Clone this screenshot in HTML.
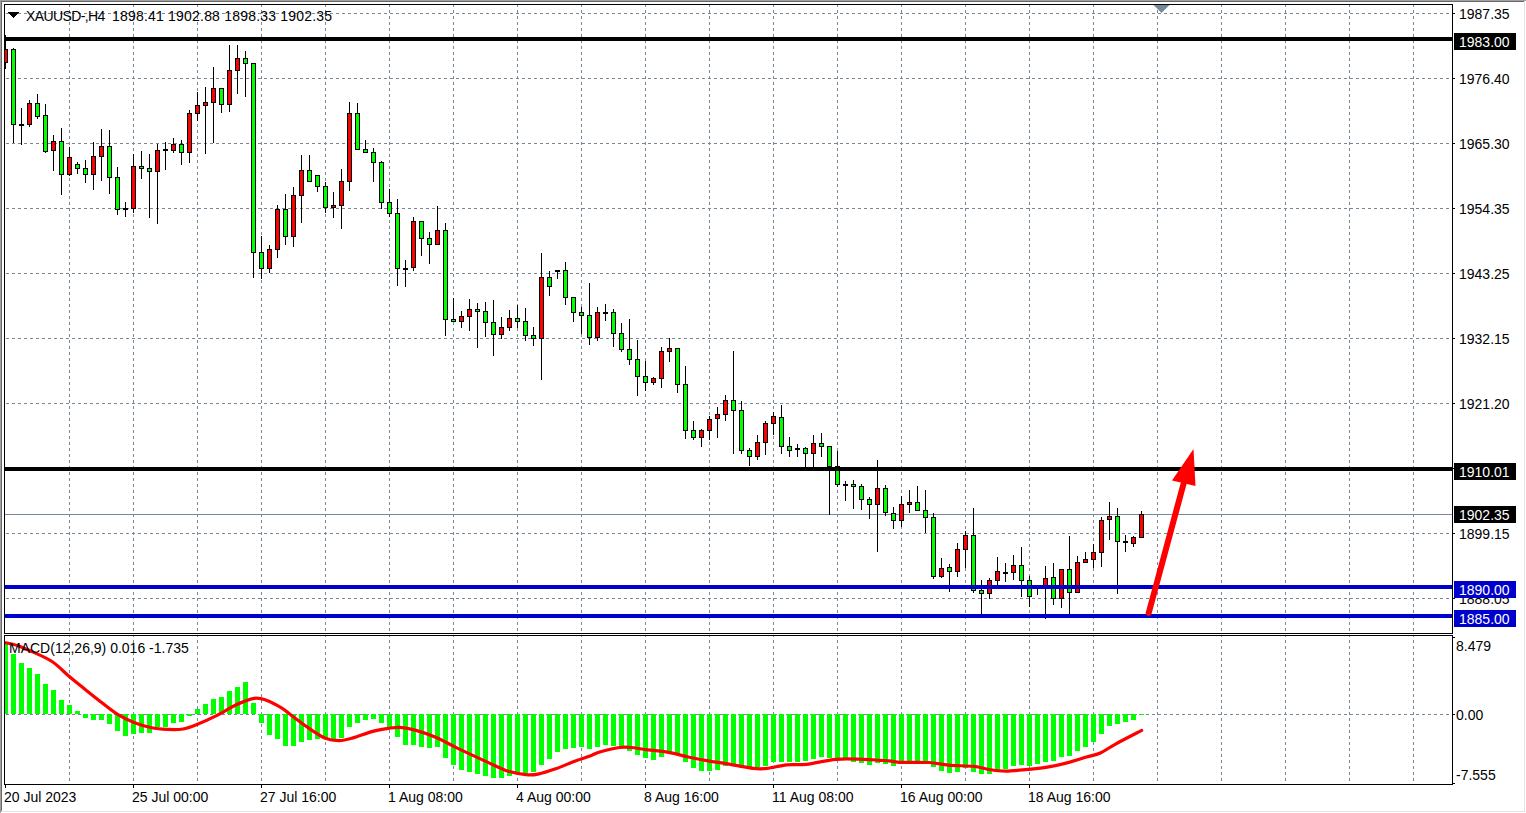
<!DOCTYPE html>
<html><head><meta charset="utf-8"><style>
html,body{margin:0;padding:0;background:#fff;width:1526px;height:813px;overflow:hidden;position:relative}
.t{position:absolute;font-family:"Liberation Sans",sans-serif;font-size:14px;line-height:16px;white-space:pre;letter-spacing:0px}
</style></head><body>
<svg width="1526" height="813" style="position:absolute;left:0;top:0" shape-rendering="crispEdges"><rect x="0" y="0" width="1526" height="1" fill="#a0a0a0"/><rect x="0" y="0" width="1" height="813" fill="#a0a0a0"/><rect x="1" y="1" width="1524" height="1" fill="#696969"/><rect x="1" y="1" width="1" height="811" fill="#696969"/><rect x="1524" y="1" width="1" height="811" fill="#e3e3e3"/><rect x="1" y="811" width="1524" height="1" fill="#e3e3e3"/><path d="M4.5 4V634M4 4.5H1453M1452.5 4V634M4 633.5H1453" stroke="#000" stroke-width="1" fill="none"/><path d="M4.5 635V785M4 635.5H1453M1452.5 635V785M4 784.5H1453" stroke="#000" stroke-width="1" fill="none"/><path d="M1453 13.5h2M1453 78.5h2M1453 143.5h2M1453 208.5h2M1453 273.5h2M1453 338.5h2M1453 403.5h2M1453 468.5h2M1453 533.5h2M1453 598.5h2M1453 637.5h2M1453 714.5h2M1453 783.5h2M5.5 785v3M133.5 785v3M261.5 785v3M389.5 785v3M517.5 785v3M645.5 785v3M773.5 785v3M901.5 785v3M1029.5 785v3" stroke="#000" stroke-width="1" fill="none"/><svg x="5" y="5" width="1447" height="628" viewBox="5 5 1447 628" overflow="hidden"><path d="M6 13.5h3M12 13.5h3M18 13.5h3M24 13.5h3M30 13.5h3M36 13.5h3M42 13.5h3M48 13.5h3M54 13.5h3M60 13.5h3M66 13.5h3M72 13.5h3M78 13.5h3M84 13.5h3M90 13.5h3M96 13.5h3M102 13.5h3M108 13.5h3M114 13.5h3M120 13.5h3M126 13.5h3M132 13.5h3M138 13.5h3M144 13.5h3M150 13.5h3M156 13.5h3M162 13.5h3M168 13.5h3M174 13.5h3M180 13.5h3M186 13.5h3M192 13.5h3M198 13.5h3M204 13.5h3M210 13.5h3M216 13.5h3M222 13.5h3M228 13.5h3M234 13.5h3M240 13.5h3M246 13.5h3M252 13.5h3M258 13.5h3M264 13.5h3M270 13.5h3M276 13.5h3M282 13.5h3M288 13.5h3M294 13.5h3M300 13.5h3M306 13.5h3M312 13.5h3M318 13.5h3M324 13.5h3M330 13.5h3M336 13.5h3M342 13.5h3M348 13.5h3M354 13.5h3M360 13.5h3M366 13.5h3M372 13.5h3M378 13.5h3M384 13.5h3M390 13.5h3M396 13.5h3M402 13.5h3M408 13.5h3M414 13.5h3M420 13.5h3M426 13.5h3M432 13.5h3M438 13.5h3M444 13.5h3M450 13.5h3M456 13.5h3M462 13.5h3M468 13.5h3M474 13.5h3M480 13.5h3M486 13.5h3M492 13.5h3M498 13.5h3M504 13.5h3M510 13.5h3M516 13.5h3M522 13.5h3M528 13.5h3M534 13.5h3M540 13.5h3M546 13.5h3M552 13.5h3M558 13.5h3M564 13.5h3M570 13.5h3M576 13.5h3M582 13.5h3M588 13.5h3M594 13.5h3M600 13.5h3M606 13.5h3M612 13.5h3M618 13.5h3M624 13.5h3M630 13.5h3M636 13.5h3M642 13.5h3M648 13.5h3M654 13.5h3M660 13.5h3M666 13.5h3M672 13.5h3M678 13.5h3M684 13.5h3M690 13.5h3M696 13.5h3M702 13.5h3M708 13.5h3M714 13.5h3M720 13.5h3M726 13.5h3M732 13.5h3M738 13.5h3M744 13.5h3M750 13.5h3M756 13.5h3M762 13.5h3M768 13.5h3M774 13.5h3M780 13.5h3M786 13.5h3M792 13.5h3M798 13.5h3M804 13.5h3M810 13.5h3M816 13.5h3M822 13.5h3M828 13.5h3M834 13.5h3M840 13.5h3M846 13.5h3M852 13.5h3M858 13.5h3M864 13.5h3M870 13.5h3M876 13.5h3M882 13.5h3M888 13.5h3M894 13.5h3M900 13.5h3M906 13.5h3M912 13.5h3M918 13.5h3M924 13.5h3M930 13.5h3M936 13.5h3M942 13.5h3M948 13.5h3M954 13.5h3M960 13.5h3M966 13.5h3M972 13.5h3M978 13.5h3M984 13.5h3M990 13.5h3M996 13.5h3M1002 13.5h3M1008 13.5h3M1014 13.5h3M1020 13.5h3M1026 13.5h3M1032 13.5h3M1038 13.5h3M1044 13.5h3M1050 13.5h3M1056 13.5h3M1062 13.5h3M1068 13.5h3M1074 13.5h3M1080 13.5h3M1086 13.5h3M1092 13.5h3M1098 13.5h3M1104 13.5h3M1110 13.5h3M1116 13.5h3M1122 13.5h3M1128 13.5h3M1134 13.5h3M1140 13.5h3M1146 13.5h3M1152 13.5h3M1158 13.5h3M1164 13.5h3M1170 13.5h3M1176 13.5h3M1182 13.5h3M1188 13.5h3M1194 13.5h3M1200 13.5h3M1206 13.5h3M1212 13.5h3M1218 13.5h3M1224 13.5h3M1230 13.5h3M1236 13.5h3M1242 13.5h3M1248 13.5h3M1254 13.5h3M1260 13.5h3M1266 13.5h3M1272 13.5h3M1278 13.5h3M1284 13.5h3M1290 13.5h3M1296 13.5h3M1302 13.5h3M1308 13.5h3M1314 13.5h3M1320 13.5h3M1326 13.5h3M1332 13.5h3M1338 13.5h3M1344 13.5h3M1350 13.5h3M1356 13.5h3M1362 13.5h3M1368 13.5h3M1374 13.5h3M1380 13.5h3M1386 13.5h3M1392 13.5h3M1398 13.5h3M1404 13.5h3M1410 13.5h3M1416 13.5h3M1422 13.5h3M1428 13.5h3M1434 13.5h3M1440 13.5h3M1446 13.5h3M6 78.5h3M12 78.5h3M18 78.5h3M24 78.5h3M30 78.5h3M36 78.5h3M42 78.5h3M48 78.5h3M54 78.5h3M60 78.5h3M66 78.5h3M72 78.5h3M78 78.5h3M84 78.5h3M90 78.5h3M96 78.5h3M102 78.5h3M108 78.5h3M114 78.5h3M120 78.5h3M126 78.5h3M132 78.5h3M138 78.5h3M144 78.5h3M150 78.5h3M156 78.5h3M162 78.5h3M168 78.5h3M174 78.5h3M180 78.5h3M186 78.5h3M192 78.5h3M198 78.5h3M204 78.5h3M210 78.5h3M216 78.5h3M222 78.5h3M228 78.5h3M234 78.5h3M240 78.5h3M246 78.5h3M252 78.5h3M258 78.5h3M264 78.5h3M270 78.5h3M276 78.5h3M282 78.5h3M288 78.5h3M294 78.5h3M300 78.5h3M306 78.5h3M312 78.5h3M318 78.5h3M324 78.5h3M330 78.5h3M336 78.5h3M342 78.5h3M348 78.5h3M354 78.5h3M360 78.5h3M366 78.5h3M372 78.5h3M378 78.5h3M384 78.5h3M390 78.5h3M396 78.5h3M402 78.5h3M408 78.5h3M414 78.5h3M420 78.5h3M426 78.5h3M432 78.5h3M438 78.5h3M444 78.5h3M450 78.5h3M456 78.5h3M462 78.5h3M468 78.5h3M474 78.5h3M480 78.5h3M486 78.5h3M492 78.5h3M498 78.5h3M504 78.5h3M510 78.5h3M516 78.5h3M522 78.5h3M528 78.5h3M534 78.5h3M540 78.5h3M546 78.5h3M552 78.5h3M558 78.5h3M564 78.5h3M570 78.5h3M576 78.5h3M582 78.5h3M588 78.5h3M594 78.5h3M600 78.5h3M606 78.5h3M612 78.5h3M618 78.5h3M624 78.5h3M630 78.5h3M636 78.5h3M642 78.5h3M648 78.5h3M654 78.5h3M660 78.5h3M666 78.5h3M672 78.5h3M678 78.5h3M684 78.5h3M690 78.5h3M696 78.5h3M702 78.5h3M708 78.5h3M714 78.5h3M720 78.5h3M726 78.5h3M732 78.5h3M738 78.5h3M744 78.5h3M750 78.5h3M756 78.5h3M762 78.5h3M768 78.5h3M774 78.5h3M780 78.5h3M786 78.5h3M792 78.5h3M798 78.5h3M804 78.5h3M810 78.5h3M816 78.5h3M822 78.5h3M828 78.5h3M834 78.5h3M840 78.5h3M846 78.5h3M852 78.5h3M858 78.5h3M864 78.5h3M870 78.5h3M876 78.5h3M882 78.5h3M888 78.5h3M894 78.5h3M900 78.5h3M906 78.5h3M912 78.5h3M918 78.5h3M924 78.5h3M930 78.5h3M936 78.5h3M942 78.5h3M948 78.5h3M954 78.5h3M960 78.5h3M966 78.5h3M972 78.5h3M978 78.5h3M984 78.5h3M990 78.5h3M996 78.5h3M1002 78.5h3M1008 78.5h3M1014 78.5h3M1020 78.5h3M1026 78.5h3M1032 78.5h3M1038 78.5h3M1044 78.5h3M1050 78.5h3M1056 78.5h3M1062 78.5h3M1068 78.5h3M1074 78.5h3M1080 78.5h3M1086 78.5h3M1092 78.5h3M1098 78.5h3M1104 78.5h3M1110 78.5h3M1116 78.5h3M1122 78.5h3M1128 78.5h3M1134 78.5h3M1140 78.5h3M1146 78.5h3M1152 78.5h3M1158 78.5h3M1164 78.5h3M1170 78.5h3M1176 78.5h3M1182 78.5h3M1188 78.5h3M1194 78.5h3M1200 78.5h3M1206 78.5h3M1212 78.5h3M1218 78.5h3M1224 78.5h3M1230 78.5h3M1236 78.5h3M1242 78.5h3M1248 78.5h3M1254 78.5h3M1260 78.5h3M1266 78.5h3M1272 78.5h3M1278 78.5h3M1284 78.5h3M1290 78.5h3M1296 78.5h3M1302 78.5h3M1308 78.5h3M1314 78.5h3M1320 78.5h3M1326 78.5h3M1332 78.5h3M1338 78.5h3M1344 78.5h3M1350 78.5h3M1356 78.5h3M1362 78.5h3M1368 78.5h3M1374 78.5h3M1380 78.5h3M1386 78.5h3M1392 78.5h3M1398 78.5h3M1404 78.5h3M1410 78.5h3M1416 78.5h3M1422 78.5h3M1428 78.5h3M1434 78.5h3M1440 78.5h3M1446 78.5h3M6 143.5h3M12 143.5h3M18 143.5h3M24 143.5h3M30 143.5h3M36 143.5h3M42 143.5h3M48 143.5h3M54 143.5h3M60 143.5h3M66 143.5h3M72 143.5h3M78 143.5h3M84 143.5h3M90 143.5h3M96 143.5h3M102 143.5h3M108 143.5h3M114 143.5h3M120 143.5h3M126 143.5h3M132 143.5h3M138 143.5h3M144 143.5h3M150 143.5h3M156 143.5h3M162 143.5h3M168 143.5h3M174 143.5h3M180 143.5h3M186 143.5h3M192 143.5h3M198 143.5h3M204 143.5h3M210 143.5h3M216 143.5h3M222 143.5h3M228 143.5h3M234 143.5h3M240 143.5h3M246 143.5h3M252 143.5h3M258 143.5h3M264 143.5h3M270 143.5h3M276 143.5h3M282 143.5h3M288 143.5h3M294 143.5h3M300 143.5h3M306 143.5h3M312 143.5h3M318 143.5h3M324 143.5h3M330 143.5h3M336 143.5h3M342 143.5h3M348 143.5h3M354 143.5h3M360 143.5h3M366 143.5h3M372 143.5h3M378 143.5h3M384 143.5h3M390 143.5h3M396 143.5h3M402 143.5h3M408 143.5h3M414 143.5h3M420 143.5h3M426 143.5h3M432 143.5h3M438 143.5h3M444 143.5h3M450 143.5h3M456 143.5h3M462 143.5h3M468 143.5h3M474 143.5h3M480 143.5h3M486 143.5h3M492 143.5h3M498 143.5h3M504 143.5h3M510 143.5h3M516 143.5h3M522 143.5h3M528 143.5h3M534 143.5h3M540 143.5h3M546 143.5h3M552 143.5h3M558 143.5h3M564 143.5h3M570 143.5h3M576 143.5h3M582 143.5h3M588 143.5h3M594 143.5h3M600 143.5h3M606 143.5h3M612 143.5h3M618 143.5h3M624 143.5h3M630 143.5h3M636 143.5h3M642 143.5h3M648 143.5h3M654 143.5h3M660 143.5h3M666 143.5h3M672 143.5h3M678 143.5h3M684 143.5h3M690 143.5h3M696 143.5h3M702 143.5h3M708 143.5h3M714 143.5h3M720 143.5h3M726 143.5h3M732 143.5h3M738 143.5h3M744 143.5h3M750 143.5h3M756 143.5h3M762 143.5h3M768 143.5h3M774 143.5h3M780 143.5h3M786 143.5h3M792 143.5h3M798 143.5h3M804 143.5h3M810 143.5h3M816 143.5h3M822 143.5h3M828 143.5h3M834 143.5h3M840 143.5h3M846 143.5h3M852 143.5h3M858 143.5h3M864 143.5h3M870 143.5h3M876 143.5h3M882 143.5h3M888 143.5h3M894 143.5h3M900 143.5h3M906 143.5h3M912 143.5h3M918 143.5h3M924 143.5h3M930 143.5h3M936 143.5h3M942 143.5h3M948 143.5h3M954 143.5h3M960 143.5h3M966 143.5h3M972 143.5h3M978 143.5h3M984 143.5h3M990 143.5h3M996 143.5h3M1002 143.5h3M1008 143.5h3M1014 143.5h3M1020 143.5h3M1026 143.5h3M1032 143.5h3M1038 143.5h3M1044 143.5h3M1050 143.5h3M1056 143.5h3M1062 143.5h3M1068 143.5h3M1074 143.5h3M1080 143.5h3M1086 143.5h3M1092 143.5h3M1098 143.5h3M1104 143.5h3M1110 143.5h3M1116 143.5h3M1122 143.5h3M1128 143.5h3M1134 143.5h3M1140 143.5h3M1146 143.5h3M1152 143.5h3M1158 143.5h3M1164 143.5h3M1170 143.5h3M1176 143.5h3M1182 143.5h3M1188 143.5h3M1194 143.5h3M1200 143.5h3M1206 143.5h3M1212 143.5h3M1218 143.5h3M1224 143.5h3M1230 143.5h3M1236 143.5h3M1242 143.5h3M1248 143.5h3M1254 143.5h3M1260 143.5h3M1266 143.5h3M1272 143.5h3M1278 143.5h3M1284 143.5h3M1290 143.5h3M1296 143.5h3M1302 143.5h3M1308 143.5h3M1314 143.5h3M1320 143.5h3M1326 143.5h3M1332 143.5h3M1338 143.5h3M1344 143.5h3M1350 143.5h3M1356 143.5h3M1362 143.5h3M1368 143.5h3M1374 143.5h3M1380 143.5h3M1386 143.5h3M1392 143.5h3M1398 143.5h3M1404 143.5h3M1410 143.5h3M1416 143.5h3M1422 143.5h3M1428 143.5h3M1434 143.5h3M1440 143.5h3M1446 143.5h3M6 208.5h3M12 208.5h3M18 208.5h3M24 208.5h3M30 208.5h3M36 208.5h3M42 208.5h3M48 208.5h3M54 208.5h3M60 208.5h3M66 208.5h3M72 208.5h3M78 208.5h3M84 208.5h3M90 208.5h3M96 208.5h3M102 208.5h3M108 208.5h3M114 208.5h3M120 208.5h3M126 208.5h3M132 208.5h3M138 208.5h3M144 208.5h3M150 208.5h3M156 208.5h3M162 208.5h3M168 208.5h3M174 208.5h3M180 208.5h3M186 208.5h3M192 208.5h3M198 208.5h3M204 208.5h3M210 208.5h3M216 208.5h3M222 208.5h3M228 208.5h3M234 208.5h3M240 208.5h3M246 208.5h3M252 208.5h3M258 208.5h3M264 208.5h3M270 208.5h3M276 208.5h3M282 208.5h3M288 208.5h3M294 208.5h3M300 208.5h3M306 208.5h3M312 208.5h3M318 208.5h3M324 208.5h3M330 208.5h3M336 208.5h3M342 208.5h3M348 208.5h3M354 208.5h3M360 208.5h3M366 208.5h3M372 208.5h3M378 208.5h3M384 208.5h3M390 208.5h3M396 208.5h3M402 208.5h3M408 208.5h3M414 208.5h3M420 208.5h3M426 208.5h3M432 208.5h3M438 208.5h3M444 208.5h3M450 208.5h3M456 208.5h3M462 208.5h3M468 208.5h3M474 208.5h3M480 208.5h3M486 208.5h3M492 208.5h3M498 208.5h3M504 208.5h3M510 208.5h3M516 208.5h3M522 208.5h3M528 208.5h3M534 208.5h3M540 208.5h3M546 208.5h3M552 208.5h3M558 208.5h3M564 208.5h3M570 208.5h3M576 208.5h3M582 208.5h3M588 208.5h3M594 208.5h3M600 208.5h3M606 208.5h3M612 208.5h3M618 208.5h3M624 208.5h3M630 208.5h3M636 208.5h3M642 208.5h3M648 208.5h3M654 208.5h3M660 208.5h3M666 208.5h3M672 208.5h3M678 208.5h3M684 208.5h3M690 208.5h3M696 208.5h3M702 208.5h3M708 208.5h3M714 208.5h3M720 208.5h3M726 208.5h3M732 208.5h3M738 208.5h3M744 208.5h3M750 208.5h3M756 208.5h3M762 208.5h3M768 208.5h3M774 208.5h3M780 208.5h3M786 208.5h3M792 208.5h3M798 208.5h3M804 208.5h3M810 208.5h3M816 208.5h3M822 208.5h3M828 208.5h3M834 208.5h3M840 208.5h3M846 208.5h3M852 208.5h3M858 208.5h3M864 208.5h3M870 208.5h3M876 208.5h3M882 208.5h3M888 208.5h3M894 208.5h3M900 208.5h3M906 208.5h3M912 208.5h3M918 208.5h3M924 208.5h3M930 208.5h3M936 208.5h3M942 208.5h3M948 208.5h3M954 208.5h3M960 208.5h3M966 208.5h3M972 208.5h3M978 208.5h3M984 208.5h3M990 208.5h3M996 208.5h3M1002 208.5h3M1008 208.5h3M1014 208.5h3M1020 208.5h3M1026 208.5h3M1032 208.5h3M1038 208.5h3M1044 208.5h3M1050 208.5h3M1056 208.5h3M1062 208.5h3M1068 208.5h3M1074 208.5h3M1080 208.5h3M1086 208.5h3M1092 208.5h3M1098 208.5h3M1104 208.5h3M1110 208.5h3M1116 208.5h3M1122 208.5h3M1128 208.5h3M1134 208.5h3M1140 208.5h3M1146 208.5h3M1152 208.5h3M1158 208.5h3M1164 208.5h3M1170 208.5h3M1176 208.5h3M1182 208.5h3M1188 208.5h3M1194 208.5h3M1200 208.5h3M1206 208.5h3M1212 208.5h3M1218 208.5h3M1224 208.5h3M1230 208.5h3M1236 208.5h3M1242 208.5h3M1248 208.5h3M1254 208.5h3M1260 208.5h3M1266 208.5h3M1272 208.5h3M1278 208.5h3M1284 208.5h3M1290 208.5h3M1296 208.5h3M1302 208.5h3M1308 208.5h3M1314 208.5h3M1320 208.5h3M1326 208.5h3M1332 208.5h3M1338 208.5h3M1344 208.5h3M1350 208.5h3M1356 208.5h3M1362 208.5h3M1368 208.5h3M1374 208.5h3M1380 208.5h3M1386 208.5h3M1392 208.5h3M1398 208.5h3M1404 208.5h3M1410 208.5h3M1416 208.5h3M1422 208.5h3M1428 208.5h3M1434 208.5h3M1440 208.5h3M1446 208.5h3M6 273.5h3M12 273.5h3M18 273.5h3M24 273.5h3M30 273.5h3M36 273.5h3M42 273.5h3M48 273.5h3M54 273.5h3M60 273.5h3M66 273.5h3M72 273.5h3M78 273.5h3M84 273.5h3M90 273.5h3M96 273.5h3M102 273.5h3M108 273.5h3M114 273.5h3M120 273.5h3M126 273.5h3M132 273.5h3M138 273.5h3M144 273.5h3M150 273.5h3M156 273.5h3M162 273.5h3M168 273.5h3M174 273.5h3M180 273.5h3M186 273.5h3M192 273.5h3M198 273.5h3M204 273.5h3M210 273.5h3M216 273.5h3M222 273.5h3M228 273.5h3M234 273.5h3M240 273.5h3M246 273.5h3M252 273.5h3M258 273.5h3M264 273.5h3M270 273.5h3M276 273.5h3M282 273.5h3M288 273.5h3M294 273.5h3M300 273.5h3M306 273.5h3M312 273.5h3M318 273.5h3M324 273.5h3M330 273.5h3M336 273.5h3M342 273.5h3M348 273.5h3M354 273.5h3M360 273.5h3M366 273.5h3M372 273.5h3M378 273.5h3M384 273.5h3M390 273.5h3M396 273.5h3M402 273.5h3M408 273.5h3M414 273.5h3M420 273.5h3M426 273.5h3M432 273.5h3M438 273.5h3M444 273.5h3M450 273.5h3M456 273.5h3M462 273.5h3M468 273.5h3M474 273.5h3M480 273.5h3M486 273.5h3M492 273.5h3M498 273.5h3M504 273.5h3M510 273.5h3M516 273.5h3M522 273.5h3M528 273.5h3M534 273.5h3M540 273.5h3M546 273.5h3M552 273.5h3M558 273.5h3M564 273.5h3M570 273.5h3M576 273.5h3M582 273.5h3M588 273.5h3M594 273.5h3M600 273.5h3M606 273.5h3M612 273.5h3M618 273.5h3M624 273.5h3M630 273.5h3M636 273.5h3M642 273.5h3M648 273.5h3M654 273.5h3M660 273.5h3M666 273.5h3M672 273.5h3M678 273.5h3M684 273.5h3M690 273.5h3M696 273.5h3M702 273.5h3M708 273.5h3M714 273.5h3M720 273.5h3M726 273.5h3M732 273.5h3M738 273.5h3M744 273.5h3M750 273.5h3M756 273.5h3M762 273.5h3M768 273.5h3M774 273.5h3M780 273.5h3M786 273.5h3M792 273.5h3M798 273.5h3M804 273.5h3M810 273.5h3M816 273.5h3M822 273.5h3M828 273.5h3M834 273.5h3M840 273.5h3M846 273.5h3M852 273.5h3M858 273.5h3M864 273.5h3M870 273.5h3M876 273.5h3M882 273.5h3M888 273.5h3M894 273.5h3M900 273.5h3M906 273.5h3M912 273.5h3M918 273.5h3M924 273.5h3M930 273.5h3M936 273.5h3M942 273.5h3M948 273.5h3M954 273.5h3M960 273.5h3M966 273.5h3M972 273.5h3M978 273.5h3M984 273.5h3M990 273.5h3M996 273.5h3M1002 273.5h3M1008 273.5h3M1014 273.5h3M1020 273.5h3M1026 273.5h3M1032 273.5h3M1038 273.5h3M1044 273.5h3M1050 273.5h3M1056 273.5h3M1062 273.5h3M1068 273.5h3M1074 273.5h3M1080 273.5h3M1086 273.5h3M1092 273.5h3M1098 273.5h3M1104 273.5h3M1110 273.5h3M1116 273.5h3M1122 273.5h3M1128 273.5h3M1134 273.5h3M1140 273.5h3M1146 273.5h3M1152 273.5h3M1158 273.5h3M1164 273.5h3M1170 273.5h3M1176 273.5h3M1182 273.5h3M1188 273.5h3M1194 273.5h3M1200 273.5h3M1206 273.5h3M1212 273.5h3M1218 273.5h3M1224 273.5h3M1230 273.5h3M1236 273.5h3M1242 273.5h3M1248 273.5h3M1254 273.5h3M1260 273.5h3M1266 273.5h3M1272 273.5h3M1278 273.5h3M1284 273.5h3M1290 273.5h3M1296 273.5h3M1302 273.5h3M1308 273.5h3M1314 273.5h3M1320 273.5h3M1326 273.5h3M1332 273.5h3M1338 273.5h3M1344 273.5h3M1350 273.5h3M1356 273.5h3M1362 273.5h3M1368 273.5h3M1374 273.5h3M1380 273.5h3M1386 273.5h3M1392 273.5h3M1398 273.5h3M1404 273.5h3M1410 273.5h3M1416 273.5h3M1422 273.5h3M1428 273.5h3M1434 273.5h3M1440 273.5h3M1446 273.5h3M6 338.5h3M12 338.5h3M18 338.5h3M24 338.5h3M30 338.5h3M36 338.5h3M42 338.5h3M48 338.5h3M54 338.5h3M60 338.5h3M66 338.5h3M72 338.5h3M78 338.5h3M84 338.5h3M90 338.5h3M96 338.5h3M102 338.5h3M108 338.5h3M114 338.5h3M120 338.5h3M126 338.5h3M132 338.5h3M138 338.5h3M144 338.5h3M150 338.5h3M156 338.5h3M162 338.5h3M168 338.5h3M174 338.5h3M180 338.5h3M186 338.5h3M192 338.5h3M198 338.5h3M204 338.5h3M210 338.5h3M216 338.5h3M222 338.5h3M228 338.5h3M234 338.5h3M240 338.5h3M246 338.5h3M252 338.5h3M258 338.5h3M264 338.5h3M270 338.5h3M276 338.5h3M282 338.5h3M288 338.5h3M294 338.5h3M300 338.5h3M306 338.5h3M312 338.5h3M318 338.5h3M324 338.5h3M330 338.5h3M336 338.5h3M342 338.5h3M348 338.5h3M354 338.5h3M360 338.5h3M366 338.5h3M372 338.5h3M378 338.5h3M384 338.5h3M390 338.5h3M396 338.5h3M402 338.5h3M408 338.5h3M414 338.5h3M420 338.5h3M426 338.5h3M432 338.5h3M438 338.5h3M444 338.5h3M450 338.5h3M456 338.5h3M462 338.5h3M468 338.5h3M474 338.5h3M480 338.5h3M486 338.5h3M492 338.5h3M498 338.5h3M504 338.5h3M510 338.5h3M516 338.5h3M522 338.5h3M528 338.5h3M534 338.5h3M540 338.5h3M546 338.5h3M552 338.5h3M558 338.5h3M564 338.5h3M570 338.5h3M576 338.5h3M582 338.5h3M588 338.5h3M594 338.5h3M600 338.5h3M606 338.5h3M612 338.5h3M618 338.5h3M624 338.5h3M630 338.5h3M636 338.5h3M642 338.5h3M648 338.5h3M654 338.5h3M660 338.5h3M666 338.5h3M672 338.5h3M678 338.5h3M684 338.5h3M690 338.5h3M696 338.5h3M702 338.5h3M708 338.5h3M714 338.5h3M720 338.5h3M726 338.5h3M732 338.5h3M738 338.5h3M744 338.5h3M750 338.5h3M756 338.5h3M762 338.5h3M768 338.5h3M774 338.5h3M780 338.5h3M786 338.5h3M792 338.5h3M798 338.5h3M804 338.5h3M810 338.5h3M816 338.5h3M822 338.5h3M828 338.5h3M834 338.5h3M840 338.5h3M846 338.5h3M852 338.5h3M858 338.5h3M864 338.5h3M870 338.5h3M876 338.5h3M882 338.5h3M888 338.5h3M894 338.5h3M900 338.5h3M906 338.5h3M912 338.5h3M918 338.5h3M924 338.5h3M930 338.5h3M936 338.5h3M942 338.5h3M948 338.5h3M954 338.5h3M960 338.5h3M966 338.5h3M972 338.5h3M978 338.5h3M984 338.5h3M990 338.5h3M996 338.5h3M1002 338.5h3M1008 338.5h3M1014 338.5h3M1020 338.5h3M1026 338.5h3M1032 338.5h3M1038 338.5h3M1044 338.5h3M1050 338.5h3M1056 338.5h3M1062 338.5h3M1068 338.5h3M1074 338.5h3M1080 338.5h3M1086 338.5h3M1092 338.5h3M1098 338.5h3M1104 338.5h3M1110 338.5h3M1116 338.5h3M1122 338.5h3M1128 338.5h3M1134 338.5h3M1140 338.5h3M1146 338.5h3M1152 338.5h3M1158 338.5h3M1164 338.5h3M1170 338.5h3M1176 338.5h3M1182 338.5h3M1188 338.5h3M1194 338.5h3M1200 338.5h3M1206 338.5h3M1212 338.5h3M1218 338.5h3M1224 338.5h3M1230 338.5h3M1236 338.5h3M1242 338.5h3M1248 338.5h3M1254 338.5h3M1260 338.5h3M1266 338.5h3M1272 338.5h3M1278 338.5h3M1284 338.5h3M1290 338.5h3M1296 338.5h3M1302 338.5h3M1308 338.5h3M1314 338.5h3M1320 338.5h3M1326 338.5h3M1332 338.5h3M1338 338.5h3M1344 338.5h3M1350 338.5h3M1356 338.5h3M1362 338.5h3M1368 338.5h3M1374 338.5h3M1380 338.5h3M1386 338.5h3M1392 338.5h3M1398 338.5h3M1404 338.5h3M1410 338.5h3M1416 338.5h3M1422 338.5h3M1428 338.5h3M1434 338.5h3M1440 338.5h3M1446 338.5h3M6 403.5h3M12 403.5h3M18 403.5h3M24 403.5h3M30 403.5h3M36 403.5h3M42 403.5h3M48 403.5h3M54 403.5h3M60 403.5h3M66 403.5h3M72 403.5h3M78 403.5h3M84 403.5h3M90 403.5h3M96 403.5h3M102 403.5h3M108 403.5h3M114 403.5h3M120 403.5h3M126 403.5h3M132 403.5h3M138 403.5h3M144 403.5h3M150 403.5h3M156 403.5h3M162 403.5h3M168 403.5h3M174 403.5h3M180 403.5h3M186 403.5h3M192 403.5h3M198 403.5h3M204 403.5h3M210 403.5h3M216 403.5h3M222 403.5h3M228 403.5h3M234 403.5h3M240 403.5h3M246 403.5h3M252 403.5h3M258 403.5h3M264 403.5h3M270 403.5h3M276 403.5h3M282 403.5h3M288 403.5h3M294 403.5h3M300 403.5h3M306 403.5h3M312 403.5h3M318 403.5h3M324 403.5h3M330 403.5h3M336 403.5h3M342 403.5h3M348 403.5h3M354 403.5h3M360 403.5h3M366 403.5h3M372 403.5h3M378 403.5h3M384 403.5h3M390 403.5h3M396 403.5h3M402 403.5h3M408 403.5h3M414 403.5h3M420 403.5h3M426 403.5h3M432 403.5h3M438 403.5h3M444 403.5h3M450 403.5h3M456 403.5h3M462 403.5h3M468 403.5h3M474 403.5h3M480 403.5h3M486 403.5h3M492 403.5h3M498 403.5h3M504 403.5h3M510 403.5h3M516 403.5h3M522 403.5h3M528 403.5h3M534 403.5h3M540 403.5h3M546 403.5h3M552 403.5h3M558 403.5h3M564 403.5h3M570 403.5h3M576 403.5h3M582 403.5h3M588 403.5h3M594 403.5h3M600 403.5h3M606 403.5h3M612 403.5h3M618 403.5h3M624 403.5h3M630 403.5h3M636 403.5h3M642 403.5h3M648 403.5h3M654 403.5h3M660 403.5h3M666 403.5h3M672 403.5h3M678 403.5h3M684 403.5h3M690 403.5h3M696 403.5h3M702 403.5h3M708 403.5h3M714 403.5h3M720 403.5h3M726 403.5h3M732 403.5h3M738 403.5h3M744 403.5h3M750 403.5h3M756 403.5h3M762 403.5h3M768 403.5h3M774 403.5h3M780 403.5h3M786 403.5h3M792 403.5h3M798 403.5h3M804 403.5h3M810 403.5h3M816 403.5h3M822 403.5h3M828 403.5h3M834 403.5h3M840 403.5h3M846 403.5h3M852 403.5h3M858 403.5h3M864 403.5h3M870 403.5h3M876 403.5h3M882 403.5h3M888 403.5h3M894 403.5h3M900 403.5h3M906 403.5h3M912 403.5h3M918 403.5h3M924 403.5h3M930 403.5h3M936 403.5h3M942 403.5h3M948 403.5h3M954 403.5h3M960 403.5h3M966 403.5h3M972 403.5h3M978 403.5h3M984 403.5h3M990 403.5h3M996 403.5h3M1002 403.5h3M1008 403.5h3M1014 403.5h3M1020 403.5h3M1026 403.5h3M1032 403.5h3M1038 403.5h3M1044 403.5h3M1050 403.5h3M1056 403.5h3M1062 403.5h3M1068 403.5h3M1074 403.5h3M1080 403.5h3M1086 403.5h3M1092 403.5h3M1098 403.5h3M1104 403.5h3M1110 403.5h3M1116 403.5h3M1122 403.5h3M1128 403.5h3M1134 403.5h3M1140 403.5h3M1146 403.5h3M1152 403.5h3M1158 403.5h3M1164 403.5h3M1170 403.5h3M1176 403.5h3M1182 403.5h3M1188 403.5h3M1194 403.5h3M1200 403.5h3M1206 403.5h3M1212 403.5h3M1218 403.5h3M1224 403.5h3M1230 403.5h3M1236 403.5h3M1242 403.5h3M1248 403.5h3M1254 403.5h3M1260 403.5h3M1266 403.5h3M1272 403.5h3M1278 403.5h3M1284 403.5h3M1290 403.5h3M1296 403.5h3M1302 403.5h3M1308 403.5h3M1314 403.5h3M1320 403.5h3M1326 403.5h3M1332 403.5h3M1338 403.5h3M1344 403.5h3M1350 403.5h3M1356 403.5h3M1362 403.5h3M1368 403.5h3M1374 403.5h3M1380 403.5h3M1386 403.5h3M1392 403.5h3M1398 403.5h3M1404 403.5h3M1410 403.5h3M1416 403.5h3M1422 403.5h3M1428 403.5h3M1434 403.5h3M1440 403.5h3M1446 403.5h3M6 468.5h3M12 468.5h3M18 468.5h3M24 468.5h3M30 468.5h3M36 468.5h3M42 468.5h3M48 468.5h3M54 468.5h3M60 468.5h3M66 468.5h3M72 468.5h3M78 468.5h3M84 468.5h3M90 468.5h3M96 468.5h3M102 468.5h3M108 468.5h3M114 468.5h3M120 468.5h3M126 468.5h3M132 468.5h3M138 468.5h3M144 468.5h3M150 468.5h3M156 468.5h3M162 468.5h3M168 468.5h3M174 468.5h3M180 468.5h3M186 468.5h3M192 468.5h3M198 468.5h3M204 468.5h3M210 468.5h3M216 468.5h3M222 468.5h3M228 468.5h3M234 468.5h3M240 468.5h3M246 468.5h3M252 468.5h3M258 468.5h3M264 468.5h3M270 468.5h3M276 468.5h3M282 468.5h3M288 468.5h3M294 468.5h3M300 468.5h3M306 468.5h3M312 468.5h3M318 468.5h3M324 468.5h3M330 468.5h3M336 468.5h3M342 468.5h3M348 468.5h3M354 468.5h3M360 468.5h3M366 468.5h3M372 468.5h3M378 468.5h3M384 468.5h3M390 468.5h3M396 468.5h3M402 468.5h3M408 468.5h3M414 468.5h3M420 468.5h3M426 468.5h3M432 468.5h3M438 468.5h3M444 468.5h3M450 468.5h3M456 468.5h3M462 468.5h3M468 468.5h3M474 468.5h3M480 468.5h3M486 468.5h3M492 468.5h3M498 468.5h3M504 468.5h3M510 468.5h3M516 468.5h3M522 468.5h3M528 468.5h3M534 468.5h3M540 468.5h3M546 468.5h3M552 468.5h3M558 468.5h3M564 468.5h3M570 468.5h3M576 468.5h3M582 468.5h3M588 468.5h3M594 468.5h3M600 468.5h3M606 468.5h3M612 468.5h3M618 468.5h3M624 468.5h3M630 468.5h3M636 468.5h3M642 468.5h3M648 468.5h3M654 468.5h3M660 468.5h3M666 468.5h3M672 468.5h3M678 468.5h3M684 468.5h3M690 468.5h3M696 468.5h3M702 468.5h3M708 468.5h3M714 468.5h3M720 468.5h3M726 468.5h3M732 468.5h3M738 468.5h3M744 468.5h3M750 468.5h3M756 468.5h3M762 468.5h3M768 468.5h3M774 468.5h3M780 468.5h3M786 468.5h3M792 468.5h3M798 468.5h3M804 468.5h3M810 468.5h3M816 468.5h3M822 468.5h3M828 468.5h3M834 468.5h3M840 468.5h3M846 468.5h3M852 468.5h3M858 468.5h3M864 468.5h3M870 468.5h3M876 468.5h3M882 468.5h3M888 468.5h3M894 468.5h3M900 468.5h3M906 468.5h3M912 468.5h3M918 468.5h3M924 468.5h3M930 468.5h3M936 468.5h3M942 468.5h3M948 468.5h3M954 468.5h3M960 468.5h3M966 468.5h3M972 468.5h3M978 468.5h3M984 468.5h3M990 468.5h3M996 468.5h3M1002 468.5h3M1008 468.5h3M1014 468.5h3M1020 468.5h3M1026 468.5h3M1032 468.5h3M1038 468.5h3M1044 468.5h3M1050 468.5h3M1056 468.5h3M1062 468.5h3M1068 468.5h3M1074 468.5h3M1080 468.5h3M1086 468.5h3M1092 468.5h3M1098 468.5h3M1104 468.5h3M1110 468.5h3M1116 468.5h3M1122 468.5h3M1128 468.5h3M1134 468.5h3M1140 468.5h3M1146 468.5h3M1152 468.5h3M1158 468.5h3M1164 468.5h3M1170 468.5h3M1176 468.5h3M1182 468.5h3M1188 468.5h3M1194 468.5h3M1200 468.5h3M1206 468.5h3M1212 468.5h3M1218 468.5h3M1224 468.5h3M1230 468.5h3M1236 468.5h3M1242 468.5h3M1248 468.5h3M1254 468.5h3M1260 468.5h3M1266 468.5h3M1272 468.5h3M1278 468.5h3M1284 468.5h3M1290 468.5h3M1296 468.5h3M1302 468.5h3M1308 468.5h3M1314 468.5h3M1320 468.5h3M1326 468.5h3M1332 468.5h3M1338 468.5h3M1344 468.5h3M1350 468.5h3M1356 468.5h3M1362 468.5h3M1368 468.5h3M1374 468.5h3M1380 468.5h3M1386 468.5h3M1392 468.5h3M1398 468.5h3M1404 468.5h3M1410 468.5h3M1416 468.5h3M1422 468.5h3M1428 468.5h3M1434 468.5h3M1440 468.5h3M1446 468.5h3M6 533.5h3M12 533.5h3M18 533.5h3M24 533.5h3M30 533.5h3M36 533.5h3M42 533.5h3M48 533.5h3M54 533.5h3M60 533.5h3M66 533.5h3M72 533.5h3M78 533.5h3M84 533.5h3M90 533.5h3M96 533.5h3M102 533.5h3M108 533.5h3M114 533.5h3M120 533.5h3M126 533.5h3M132 533.5h3M138 533.5h3M144 533.5h3M150 533.5h3M156 533.5h3M162 533.5h3M168 533.5h3M174 533.5h3M180 533.5h3M186 533.5h3M192 533.5h3M198 533.5h3M204 533.5h3M210 533.5h3M216 533.5h3M222 533.5h3M228 533.5h3M234 533.5h3M240 533.5h3M246 533.5h3M252 533.5h3M258 533.5h3M264 533.5h3M270 533.5h3M276 533.5h3M282 533.5h3M288 533.5h3M294 533.5h3M300 533.5h3M306 533.5h3M312 533.5h3M318 533.5h3M324 533.5h3M330 533.5h3M336 533.5h3M342 533.5h3M348 533.5h3M354 533.5h3M360 533.5h3M366 533.5h3M372 533.5h3M378 533.5h3M384 533.5h3M390 533.5h3M396 533.5h3M402 533.5h3M408 533.5h3M414 533.5h3M420 533.5h3M426 533.5h3M432 533.5h3M438 533.5h3M444 533.5h3M450 533.5h3M456 533.5h3M462 533.5h3M468 533.5h3M474 533.5h3M480 533.5h3M486 533.5h3M492 533.5h3M498 533.5h3M504 533.5h3M510 533.5h3M516 533.5h3M522 533.5h3M528 533.5h3M534 533.5h3M540 533.5h3M546 533.5h3M552 533.5h3M558 533.5h3M564 533.5h3M570 533.5h3M576 533.5h3M582 533.5h3M588 533.5h3M594 533.5h3M600 533.5h3M606 533.5h3M612 533.5h3M618 533.5h3M624 533.5h3M630 533.5h3M636 533.5h3M642 533.5h3M648 533.5h3M654 533.5h3M660 533.5h3M666 533.5h3M672 533.5h3M678 533.5h3M684 533.5h3M690 533.5h3M696 533.5h3M702 533.5h3M708 533.5h3M714 533.5h3M720 533.5h3M726 533.5h3M732 533.5h3M738 533.5h3M744 533.5h3M750 533.5h3M756 533.5h3M762 533.5h3M768 533.5h3M774 533.5h3M780 533.5h3M786 533.5h3M792 533.5h3M798 533.5h3M804 533.5h3M810 533.5h3M816 533.5h3M822 533.5h3M828 533.5h3M834 533.5h3M840 533.5h3M846 533.5h3M852 533.5h3M858 533.5h3M864 533.5h3M870 533.5h3M876 533.5h3M882 533.5h3M888 533.5h3M894 533.5h3M900 533.5h3M906 533.5h3M912 533.5h3M918 533.5h3M924 533.5h3M930 533.5h3M936 533.5h3M942 533.5h3M948 533.5h3M954 533.5h3M960 533.5h3M966 533.5h3M972 533.5h3M978 533.5h3M984 533.5h3M990 533.5h3M996 533.5h3M1002 533.5h3M1008 533.5h3M1014 533.5h3M1020 533.5h3M1026 533.5h3M1032 533.5h3M1038 533.5h3M1044 533.5h3M1050 533.5h3M1056 533.5h3M1062 533.5h3M1068 533.5h3M1074 533.5h3M1080 533.5h3M1086 533.5h3M1092 533.5h3M1098 533.5h3M1104 533.5h3M1110 533.5h3M1116 533.5h3M1122 533.5h3M1128 533.5h3M1134 533.5h3M1140 533.5h3M1146 533.5h3M1152 533.5h3M1158 533.5h3M1164 533.5h3M1170 533.5h3M1176 533.5h3M1182 533.5h3M1188 533.5h3M1194 533.5h3M1200 533.5h3M1206 533.5h3M1212 533.5h3M1218 533.5h3M1224 533.5h3M1230 533.5h3M1236 533.5h3M1242 533.5h3M1248 533.5h3M1254 533.5h3M1260 533.5h3M1266 533.5h3M1272 533.5h3M1278 533.5h3M1284 533.5h3M1290 533.5h3M1296 533.5h3M1302 533.5h3M1308 533.5h3M1314 533.5h3M1320 533.5h3M1326 533.5h3M1332 533.5h3M1338 533.5h3M1344 533.5h3M1350 533.5h3M1356 533.5h3M1362 533.5h3M1368 533.5h3M1374 533.5h3M1380 533.5h3M1386 533.5h3M1392 533.5h3M1398 533.5h3M1404 533.5h3M1410 533.5h3M1416 533.5h3M1422 533.5h3M1428 533.5h3M1434 533.5h3M1440 533.5h3M1446 533.5h3M6 598.5h3M12 598.5h3M18 598.5h3M24 598.5h3M30 598.5h3M36 598.5h3M42 598.5h3M48 598.5h3M54 598.5h3M60 598.5h3M66 598.5h3M72 598.5h3M78 598.5h3M84 598.5h3M90 598.5h3M96 598.5h3M102 598.5h3M108 598.5h3M114 598.5h3M120 598.5h3M126 598.5h3M132 598.5h3M138 598.5h3M144 598.5h3M150 598.5h3M156 598.5h3M162 598.5h3M168 598.5h3M174 598.5h3M180 598.5h3M186 598.5h3M192 598.5h3M198 598.5h3M204 598.5h3M210 598.5h3M216 598.5h3M222 598.5h3M228 598.5h3M234 598.5h3M240 598.5h3M246 598.5h3M252 598.5h3M258 598.5h3M264 598.5h3M270 598.5h3M276 598.5h3M282 598.5h3M288 598.5h3M294 598.5h3M300 598.5h3M306 598.5h3M312 598.5h3M318 598.5h3M324 598.5h3M330 598.5h3M336 598.5h3M342 598.5h3M348 598.5h3M354 598.5h3M360 598.5h3M366 598.5h3M372 598.5h3M378 598.5h3M384 598.5h3M390 598.5h3M396 598.5h3M402 598.5h3M408 598.5h3M414 598.5h3M420 598.5h3M426 598.5h3M432 598.5h3M438 598.5h3M444 598.5h3M450 598.5h3M456 598.5h3M462 598.5h3M468 598.5h3M474 598.5h3M480 598.5h3M486 598.5h3M492 598.5h3M498 598.5h3M504 598.5h3M510 598.5h3M516 598.5h3M522 598.5h3M528 598.5h3M534 598.5h3M540 598.5h3M546 598.5h3M552 598.5h3M558 598.5h3M564 598.5h3M570 598.5h3M576 598.5h3M582 598.5h3M588 598.5h3M594 598.5h3M600 598.5h3M606 598.5h3M612 598.5h3M618 598.5h3M624 598.5h3M630 598.5h3M636 598.5h3M642 598.5h3M648 598.5h3M654 598.5h3M660 598.5h3M666 598.5h3M672 598.5h3M678 598.5h3M684 598.5h3M690 598.5h3M696 598.5h3M702 598.5h3M708 598.5h3M714 598.5h3M720 598.5h3M726 598.5h3M732 598.5h3M738 598.5h3M744 598.5h3M750 598.5h3M756 598.5h3M762 598.5h3M768 598.5h3M774 598.5h3M780 598.5h3M786 598.5h3M792 598.5h3M798 598.5h3M804 598.5h3M810 598.5h3M816 598.5h3M822 598.5h3M828 598.5h3M834 598.5h3M840 598.5h3M846 598.5h3M852 598.5h3M858 598.5h3M864 598.5h3M870 598.5h3M876 598.5h3M882 598.5h3M888 598.5h3M894 598.5h3M900 598.5h3M906 598.5h3M912 598.5h3M918 598.5h3M924 598.5h3M930 598.5h3M936 598.5h3M942 598.5h3M948 598.5h3M954 598.5h3M960 598.5h3M966 598.5h3M972 598.5h3M978 598.5h3M984 598.5h3M990 598.5h3M996 598.5h3M1002 598.5h3M1008 598.5h3M1014 598.5h3M1020 598.5h3M1026 598.5h3M1032 598.5h3M1038 598.5h3M1044 598.5h3M1050 598.5h3M1056 598.5h3M1062 598.5h3M1068 598.5h3M1074 598.5h3M1080 598.5h3M1086 598.5h3M1092 598.5h3M1098 598.5h3M1104 598.5h3M1110 598.5h3M1116 598.5h3M1122 598.5h3M1128 598.5h3M1134 598.5h3M1140 598.5h3M1146 598.5h3M1152 598.5h3M1158 598.5h3M1164 598.5h3M1170 598.5h3M1176 598.5h3M1182 598.5h3M1188 598.5h3M1194 598.5h3M1200 598.5h3M1206 598.5h3M1212 598.5h3M1218 598.5h3M1224 598.5h3M1230 598.5h3M1236 598.5h3M1242 598.5h3M1248 598.5h3M1254 598.5h3M1260 598.5h3M1266 598.5h3M1272 598.5h3M1278 598.5h3M1284 598.5h3M1290 598.5h3M1296 598.5h3M1302 598.5h3M1308 598.5h3M1314 598.5h3M1320 598.5h3M1326 598.5h3M1332 598.5h3M1338 598.5h3M1344 598.5h3M1350 598.5h3M1356 598.5h3M1362 598.5h3M1368 598.5h3M1374 598.5h3M1380 598.5h3M1386 598.5h3M1392 598.5h3M1398 598.5h3M1404 598.5h3M1410 598.5h3M1416 598.5h3M1422 598.5h3M1428 598.5h3M1434 598.5h3M1440 598.5h3M1446 598.5h3M69.5 5v2M69.5 10v3M69.5 16v3M69.5 22v3M69.5 28v3M69.5 34v3M69.5 40v3M69.5 46v3M69.5 52v3M69.5 58v3M69.5 64v3M69.5 70v3M69.5 76v3M69.5 82v3M69.5 88v3M69.5 94v3M69.5 100v3M69.5 106v3M69.5 112v3M69.5 118v3M69.5 124v3M69.5 130v3M69.5 136v3M69.5 142v3M69.5 148v3M69.5 154v3M69.5 160v3M69.5 166v3M69.5 172v3M69.5 178v3M69.5 184v3M69.5 190v3M69.5 196v3M69.5 202v3M69.5 208v3M69.5 214v3M69.5 220v3M69.5 226v3M69.5 232v3M69.5 238v3M69.5 244v3M69.5 250v3M69.5 256v3M69.5 262v3M69.5 268v3M69.5 274v3M69.5 280v3M69.5 286v3M69.5 292v3M69.5 298v3M69.5 304v3M69.5 310v3M69.5 316v3M69.5 322v3M69.5 328v3M69.5 334v3M69.5 340v3M69.5 346v3M69.5 352v3M69.5 358v3M69.5 364v3M69.5 370v3M69.5 376v3M69.5 382v3M69.5 388v3M69.5 394v3M69.5 400v3M69.5 406v3M69.5 412v3M69.5 418v3M69.5 424v3M69.5 430v3M69.5 436v3M69.5 442v3M69.5 448v3M69.5 454v3M69.5 460v3M69.5 466v3M69.5 472v3M69.5 478v3M69.5 484v3M69.5 490v3M69.5 496v3M69.5 502v3M69.5 508v3M69.5 514v3M69.5 520v3M69.5 526v3M69.5 532v3M69.5 538v3M69.5 544v3M69.5 550v3M69.5 556v3M69.5 562v3M69.5 568v3M69.5 574v3M69.5 580v3M69.5 586v3M69.5 592v3M69.5 598v3M69.5 604v3M69.5 610v3M69.5 616v3M69.5 622v3M69.5 628v3M133.5 5v2M133.5 10v3M133.5 16v3M133.5 22v3M133.5 28v3M133.5 34v3M133.5 40v3M133.5 46v3M133.5 52v3M133.5 58v3M133.5 64v3M133.5 70v3M133.5 76v3M133.5 82v3M133.5 88v3M133.5 94v3M133.5 100v3M133.5 106v3M133.5 112v3M133.5 118v3M133.5 124v3M133.5 130v3M133.5 136v3M133.5 142v3M133.5 148v3M133.5 154v3M133.5 160v3M133.5 166v3M133.5 172v3M133.5 178v3M133.5 184v3M133.5 190v3M133.5 196v3M133.5 202v3M133.5 208v3M133.5 214v3M133.5 220v3M133.5 226v3M133.5 232v3M133.5 238v3M133.5 244v3M133.5 250v3M133.5 256v3M133.5 262v3M133.5 268v3M133.5 274v3M133.5 280v3M133.5 286v3M133.5 292v3M133.5 298v3M133.5 304v3M133.5 310v3M133.5 316v3M133.5 322v3M133.5 328v3M133.5 334v3M133.5 340v3M133.5 346v3M133.5 352v3M133.5 358v3M133.5 364v3M133.5 370v3M133.5 376v3M133.5 382v3M133.5 388v3M133.5 394v3M133.5 400v3M133.5 406v3M133.5 412v3M133.5 418v3M133.5 424v3M133.5 430v3M133.5 436v3M133.5 442v3M133.5 448v3M133.5 454v3M133.5 460v3M133.5 466v3M133.5 472v3M133.5 478v3M133.5 484v3M133.5 490v3M133.5 496v3M133.5 502v3M133.5 508v3M133.5 514v3M133.5 520v3M133.5 526v3M133.5 532v3M133.5 538v3M133.5 544v3M133.5 550v3M133.5 556v3M133.5 562v3M133.5 568v3M133.5 574v3M133.5 580v3M133.5 586v3M133.5 592v3M133.5 598v3M133.5 604v3M133.5 610v3M133.5 616v3M133.5 622v3M133.5 628v3M197.5 5v2M197.5 10v3M197.5 16v3M197.5 22v3M197.5 28v3M197.5 34v3M197.5 40v3M197.5 46v3M197.5 52v3M197.5 58v3M197.5 64v3M197.5 70v3M197.5 76v3M197.5 82v3M197.5 88v3M197.5 94v3M197.5 100v3M197.5 106v3M197.5 112v3M197.5 118v3M197.5 124v3M197.5 130v3M197.5 136v3M197.5 142v3M197.5 148v3M197.5 154v3M197.5 160v3M197.5 166v3M197.5 172v3M197.5 178v3M197.5 184v3M197.5 190v3M197.5 196v3M197.5 202v3M197.5 208v3M197.5 214v3M197.5 220v3M197.5 226v3M197.5 232v3M197.5 238v3M197.5 244v3M197.5 250v3M197.5 256v3M197.5 262v3M197.5 268v3M197.5 274v3M197.5 280v3M197.5 286v3M197.5 292v3M197.5 298v3M197.5 304v3M197.5 310v3M197.5 316v3M197.5 322v3M197.5 328v3M197.5 334v3M197.5 340v3M197.5 346v3M197.5 352v3M197.5 358v3M197.5 364v3M197.5 370v3M197.5 376v3M197.5 382v3M197.5 388v3M197.5 394v3M197.5 400v3M197.5 406v3M197.5 412v3M197.5 418v3M197.5 424v3M197.5 430v3M197.5 436v3M197.5 442v3M197.5 448v3M197.5 454v3M197.5 460v3M197.5 466v3M197.5 472v3M197.5 478v3M197.5 484v3M197.5 490v3M197.5 496v3M197.5 502v3M197.5 508v3M197.5 514v3M197.5 520v3M197.5 526v3M197.5 532v3M197.5 538v3M197.5 544v3M197.5 550v3M197.5 556v3M197.5 562v3M197.5 568v3M197.5 574v3M197.5 580v3M197.5 586v3M197.5 592v3M197.5 598v3M197.5 604v3M197.5 610v3M197.5 616v3M197.5 622v3M197.5 628v3M261.5 5v2M261.5 10v3M261.5 16v3M261.5 22v3M261.5 28v3M261.5 34v3M261.5 40v3M261.5 46v3M261.5 52v3M261.5 58v3M261.5 64v3M261.5 70v3M261.5 76v3M261.5 82v3M261.5 88v3M261.5 94v3M261.5 100v3M261.5 106v3M261.5 112v3M261.5 118v3M261.5 124v3M261.5 130v3M261.5 136v3M261.5 142v3M261.5 148v3M261.5 154v3M261.5 160v3M261.5 166v3M261.5 172v3M261.5 178v3M261.5 184v3M261.5 190v3M261.5 196v3M261.5 202v3M261.5 208v3M261.5 214v3M261.5 220v3M261.5 226v3M261.5 232v3M261.5 238v3M261.5 244v3M261.5 250v3M261.5 256v3M261.5 262v3M261.5 268v3M261.5 274v3M261.5 280v3M261.5 286v3M261.5 292v3M261.5 298v3M261.5 304v3M261.5 310v3M261.5 316v3M261.5 322v3M261.5 328v3M261.5 334v3M261.5 340v3M261.5 346v3M261.5 352v3M261.5 358v3M261.5 364v3M261.5 370v3M261.5 376v3M261.5 382v3M261.5 388v3M261.5 394v3M261.5 400v3M261.5 406v3M261.5 412v3M261.5 418v3M261.5 424v3M261.5 430v3M261.5 436v3M261.5 442v3M261.5 448v3M261.5 454v3M261.5 460v3M261.5 466v3M261.5 472v3M261.5 478v3M261.5 484v3M261.5 490v3M261.5 496v3M261.5 502v3M261.5 508v3M261.5 514v3M261.5 520v3M261.5 526v3M261.5 532v3M261.5 538v3M261.5 544v3M261.5 550v3M261.5 556v3M261.5 562v3M261.5 568v3M261.5 574v3M261.5 580v3M261.5 586v3M261.5 592v3M261.5 598v3M261.5 604v3M261.5 610v3M261.5 616v3M261.5 622v3M261.5 628v3M325.5 5v2M325.5 10v3M325.5 16v3M325.5 22v3M325.5 28v3M325.5 34v3M325.5 40v3M325.5 46v3M325.5 52v3M325.5 58v3M325.5 64v3M325.5 70v3M325.5 76v3M325.5 82v3M325.5 88v3M325.5 94v3M325.5 100v3M325.5 106v3M325.5 112v3M325.5 118v3M325.5 124v3M325.5 130v3M325.5 136v3M325.5 142v3M325.5 148v3M325.5 154v3M325.5 160v3M325.5 166v3M325.5 172v3M325.5 178v3M325.5 184v3M325.5 190v3M325.5 196v3M325.5 202v3M325.5 208v3M325.5 214v3M325.5 220v3M325.5 226v3M325.5 232v3M325.5 238v3M325.5 244v3M325.5 250v3M325.5 256v3M325.5 262v3M325.5 268v3M325.5 274v3M325.5 280v3M325.5 286v3M325.5 292v3M325.5 298v3M325.5 304v3M325.5 310v3M325.5 316v3M325.5 322v3M325.5 328v3M325.5 334v3M325.5 340v3M325.5 346v3M325.5 352v3M325.5 358v3M325.5 364v3M325.5 370v3M325.5 376v3M325.5 382v3M325.5 388v3M325.5 394v3M325.5 400v3M325.5 406v3M325.5 412v3M325.5 418v3M325.5 424v3M325.5 430v3M325.5 436v3M325.5 442v3M325.5 448v3M325.5 454v3M325.5 460v3M325.5 466v3M325.5 472v3M325.5 478v3M325.5 484v3M325.5 490v3M325.5 496v3M325.5 502v3M325.5 508v3M325.5 514v3M325.5 520v3M325.5 526v3M325.5 532v3M325.5 538v3M325.5 544v3M325.5 550v3M325.5 556v3M325.5 562v3M325.5 568v3M325.5 574v3M325.5 580v3M325.5 586v3M325.5 592v3M325.5 598v3M325.5 604v3M325.5 610v3M325.5 616v3M325.5 622v3M325.5 628v3M389.5 5v2M389.5 10v3M389.5 16v3M389.5 22v3M389.5 28v3M389.5 34v3M389.5 40v3M389.5 46v3M389.5 52v3M389.5 58v3M389.5 64v3M389.5 70v3M389.5 76v3M389.5 82v3M389.5 88v3M389.5 94v3M389.5 100v3M389.5 106v3M389.5 112v3M389.5 118v3M389.5 124v3M389.5 130v3M389.5 136v3M389.5 142v3M389.5 148v3M389.5 154v3M389.5 160v3M389.5 166v3M389.5 172v3M389.5 178v3M389.5 184v3M389.5 190v3M389.5 196v3M389.5 202v3M389.5 208v3M389.5 214v3M389.5 220v3M389.5 226v3M389.5 232v3M389.5 238v3M389.5 244v3M389.5 250v3M389.5 256v3M389.5 262v3M389.5 268v3M389.5 274v3M389.5 280v3M389.5 286v3M389.5 292v3M389.5 298v3M389.5 304v3M389.5 310v3M389.5 316v3M389.5 322v3M389.5 328v3M389.5 334v3M389.5 340v3M389.5 346v3M389.5 352v3M389.5 358v3M389.5 364v3M389.5 370v3M389.5 376v3M389.5 382v3M389.5 388v3M389.5 394v3M389.5 400v3M389.5 406v3M389.5 412v3M389.5 418v3M389.5 424v3M389.5 430v3M389.5 436v3M389.5 442v3M389.5 448v3M389.5 454v3M389.5 460v3M389.5 466v3M389.5 472v3M389.5 478v3M389.5 484v3M389.5 490v3M389.5 496v3M389.5 502v3M389.5 508v3M389.5 514v3M389.5 520v3M389.5 526v3M389.5 532v3M389.5 538v3M389.5 544v3M389.5 550v3M389.5 556v3M389.5 562v3M389.5 568v3M389.5 574v3M389.5 580v3M389.5 586v3M389.5 592v3M389.5 598v3M389.5 604v3M389.5 610v3M389.5 616v3M389.5 622v3M389.5 628v3M453.5 5v2M453.5 10v3M453.5 16v3M453.5 22v3M453.5 28v3M453.5 34v3M453.5 40v3M453.5 46v3M453.5 52v3M453.5 58v3M453.5 64v3M453.5 70v3M453.5 76v3M453.5 82v3M453.5 88v3M453.5 94v3M453.5 100v3M453.5 106v3M453.5 112v3M453.5 118v3M453.5 124v3M453.5 130v3M453.5 136v3M453.5 142v3M453.5 148v3M453.5 154v3M453.5 160v3M453.5 166v3M453.5 172v3M453.5 178v3M453.5 184v3M453.5 190v3M453.5 196v3M453.5 202v3M453.5 208v3M453.5 214v3M453.5 220v3M453.5 226v3M453.5 232v3M453.5 238v3M453.5 244v3M453.5 250v3M453.5 256v3M453.5 262v3M453.5 268v3M453.5 274v3M453.5 280v3M453.5 286v3M453.5 292v3M453.5 298v3M453.5 304v3M453.5 310v3M453.5 316v3M453.5 322v3M453.5 328v3M453.5 334v3M453.5 340v3M453.5 346v3M453.5 352v3M453.5 358v3M453.5 364v3M453.5 370v3M453.5 376v3M453.5 382v3M453.5 388v3M453.5 394v3M453.5 400v3M453.5 406v3M453.5 412v3M453.5 418v3M453.5 424v3M453.5 430v3M453.5 436v3M453.5 442v3M453.5 448v3M453.5 454v3M453.5 460v3M453.5 466v3M453.5 472v3M453.5 478v3M453.5 484v3M453.5 490v3M453.5 496v3M453.5 502v3M453.5 508v3M453.5 514v3M453.5 520v3M453.5 526v3M453.5 532v3M453.5 538v3M453.5 544v3M453.5 550v3M453.5 556v3M453.5 562v3M453.5 568v3M453.5 574v3M453.5 580v3M453.5 586v3M453.5 592v3M453.5 598v3M453.5 604v3M453.5 610v3M453.5 616v3M453.5 622v3M453.5 628v3M517.5 5v2M517.5 10v3M517.5 16v3M517.5 22v3M517.5 28v3M517.5 34v3M517.5 40v3M517.5 46v3M517.5 52v3M517.5 58v3M517.5 64v3M517.5 70v3M517.5 76v3M517.5 82v3M517.5 88v3M517.5 94v3M517.5 100v3M517.5 106v3M517.5 112v3M517.5 118v3M517.5 124v3M517.5 130v3M517.5 136v3M517.5 142v3M517.5 148v3M517.5 154v3M517.5 160v3M517.5 166v3M517.5 172v3M517.5 178v3M517.5 184v3M517.5 190v3M517.5 196v3M517.5 202v3M517.5 208v3M517.5 214v3M517.5 220v3M517.5 226v3M517.5 232v3M517.5 238v3M517.5 244v3M517.5 250v3M517.5 256v3M517.5 262v3M517.5 268v3M517.5 274v3M517.5 280v3M517.5 286v3M517.5 292v3M517.5 298v3M517.5 304v3M517.5 310v3M517.5 316v3M517.5 322v3M517.5 328v3M517.5 334v3M517.5 340v3M517.5 346v3M517.5 352v3M517.5 358v3M517.5 364v3M517.5 370v3M517.5 376v3M517.5 382v3M517.5 388v3M517.5 394v3M517.5 400v3M517.5 406v3M517.5 412v3M517.5 418v3M517.5 424v3M517.5 430v3M517.5 436v3M517.5 442v3M517.5 448v3M517.5 454v3M517.5 460v3M517.5 466v3M517.5 472v3M517.5 478v3M517.5 484v3M517.5 490v3M517.5 496v3M517.5 502v3M517.5 508v3M517.5 514v3M517.5 520v3M517.5 526v3M517.5 532v3M517.5 538v3M517.5 544v3M517.5 550v3M517.5 556v3M517.5 562v3M517.5 568v3M517.5 574v3M517.5 580v3M517.5 586v3M517.5 592v3M517.5 598v3M517.5 604v3M517.5 610v3M517.5 616v3M517.5 622v3M517.5 628v3M581.5 5v2M581.5 10v3M581.5 16v3M581.5 22v3M581.5 28v3M581.5 34v3M581.5 40v3M581.5 46v3M581.5 52v3M581.5 58v3M581.5 64v3M581.5 70v3M581.5 76v3M581.5 82v3M581.5 88v3M581.5 94v3M581.5 100v3M581.5 106v3M581.5 112v3M581.5 118v3M581.5 124v3M581.5 130v3M581.5 136v3M581.5 142v3M581.5 148v3M581.5 154v3M581.5 160v3M581.5 166v3M581.5 172v3M581.5 178v3M581.5 184v3M581.5 190v3M581.5 196v3M581.5 202v3M581.5 208v3M581.5 214v3M581.5 220v3M581.5 226v3M581.5 232v3M581.5 238v3M581.5 244v3M581.5 250v3M581.5 256v3M581.5 262v3M581.5 268v3M581.5 274v3M581.5 280v3M581.5 286v3M581.5 292v3M581.5 298v3M581.5 304v3M581.5 310v3M581.5 316v3M581.5 322v3M581.5 328v3M581.5 334v3M581.5 340v3M581.5 346v3M581.5 352v3M581.5 358v3M581.5 364v3M581.5 370v3M581.5 376v3M581.5 382v3M581.5 388v3M581.5 394v3M581.5 400v3M581.5 406v3M581.5 412v3M581.5 418v3M581.5 424v3M581.5 430v3M581.5 436v3M581.5 442v3M581.5 448v3M581.5 454v3M581.5 460v3M581.5 466v3M581.5 472v3M581.5 478v3M581.5 484v3M581.5 490v3M581.5 496v3M581.5 502v3M581.5 508v3M581.5 514v3M581.5 520v3M581.5 526v3M581.5 532v3M581.5 538v3M581.5 544v3M581.5 550v3M581.5 556v3M581.5 562v3M581.5 568v3M581.5 574v3M581.5 580v3M581.5 586v3M581.5 592v3M581.5 598v3M581.5 604v3M581.5 610v3M581.5 616v3M581.5 622v3M581.5 628v3M645.5 5v2M645.5 10v3M645.5 16v3M645.5 22v3M645.5 28v3M645.5 34v3M645.5 40v3M645.5 46v3M645.5 52v3M645.5 58v3M645.5 64v3M645.5 70v3M645.5 76v3M645.5 82v3M645.5 88v3M645.5 94v3M645.5 100v3M645.5 106v3M645.5 112v3M645.5 118v3M645.5 124v3M645.5 130v3M645.5 136v3M645.5 142v3M645.5 148v3M645.5 154v3M645.5 160v3M645.5 166v3M645.5 172v3M645.5 178v3M645.5 184v3M645.5 190v3M645.5 196v3M645.5 202v3M645.5 208v3M645.5 214v3M645.5 220v3M645.5 226v3M645.5 232v3M645.5 238v3M645.5 244v3M645.5 250v3M645.5 256v3M645.5 262v3M645.5 268v3M645.5 274v3M645.5 280v3M645.5 286v3M645.5 292v3M645.5 298v3M645.5 304v3M645.5 310v3M645.5 316v3M645.5 322v3M645.5 328v3M645.5 334v3M645.5 340v3M645.5 346v3M645.5 352v3M645.5 358v3M645.5 364v3M645.5 370v3M645.5 376v3M645.5 382v3M645.5 388v3M645.5 394v3M645.5 400v3M645.5 406v3M645.5 412v3M645.5 418v3M645.5 424v3M645.5 430v3M645.5 436v3M645.5 442v3M645.5 448v3M645.5 454v3M645.5 460v3M645.5 466v3M645.5 472v3M645.5 478v3M645.5 484v3M645.5 490v3M645.5 496v3M645.5 502v3M645.5 508v3M645.5 514v3M645.5 520v3M645.5 526v3M645.5 532v3M645.5 538v3M645.5 544v3M645.5 550v3M645.5 556v3M645.5 562v3M645.5 568v3M645.5 574v3M645.5 580v3M645.5 586v3M645.5 592v3M645.5 598v3M645.5 604v3M645.5 610v3M645.5 616v3M645.5 622v3M645.5 628v3M709.5 5v2M709.5 10v3M709.5 16v3M709.5 22v3M709.5 28v3M709.5 34v3M709.5 40v3M709.5 46v3M709.5 52v3M709.5 58v3M709.5 64v3M709.5 70v3M709.5 76v3M709.5 82v3M709.5 88v3M709.5 94v3M709.5 100v3M709.5 106v3M709.5 112v3M709.5 118v3M709.5 124v3M709.5 130v3M709.5 136v3M709.5 142v3M709.5 148v3M709.5 154v3M709.5 160v3M709.5 166v3M709.5 172v3M709.5 178v3M709.5 184v3M709.5 190v3M709.5 196v3M709.5 202v3M709.5 208v3M709.5 214v3M709.5 220v3M709.5 226v3M709.5 232v3M709.5 238v3M709.5 244v3M709.5 250v3M709.5 256v3M709.5 262v3M709.5 268v3M709.5 274v3M709.5 280v3M709.5 286v3M709.5 292v3M709.5 298v3M709.5 304v3M709.5 310v3M709.5 316v3M709.5 322v3M709.5 328v3M709.5 334v3M709.5 340v3M709.5 346v3M709.5 352v3M709.5 358v3M709.5 364v3M709.5 370v3M709.5 376v3M709.5 382v3M709.5 388v3M709.5 394v3M709.5 400v3M709.5 406v3M709.5 412v3M709.5 418v3M709.5 424v3M709.5 430v3M709.5 436v3M709.5 442v3M709.5 448v3M709.5 454v3M709.5 460v3M709.5 466v3M709.5 472v3M709.5 478v3M709.5 484v3M709.5 490v3M709.5 496v3M709.5 502v3M709.5 508v3M709.5 514v3M709.5 520v3M709.5 526v3M709.5 532v3M709.5 538v3M709.5 544v3M709.5 550v3M709.5 556v3M709.5 562v3M709.5 568v3M709.5 574v3M709.5 580v3M709.5 586v3M709.5 592v3M709.5 598v3M709.5 604v3M709.5 610v3M709.5 616v3M709.5 622v3M709.5 628v3M773.5 5v2M773.5 10v3M773.5 16v3M773.5 22v3M773.5 28v3M773.5 34v3M773.5 40v3M773.5 46v3M773.5 52v3M773.5 58v3M773.5 64v3M773.5 70v3M773.5 76v3M773.5 82v3M773.5 88v3M773.5 94v3M773.5 100v3M773.5 106v3M773.5 112v3M773.5 118v3M773.5 124v3M773.5 130v3M773.5 136v3M773.5 142v3M773.5 148v3M773.5 154v3M773.5 160v3M773.5 166v3M773.5 172v3M773.5 178v3M773.5 184v3M773.5 190v3M773.5 196v3M773.5 202v3M773.5 208v3M773.5 214v3M773.5 220v3M773.5 226v3M773.5 232v3M773.5 238v3M773.5 244v3M773.5 250v3M773.5 256v3M773.5 262v3M773.5 268v3M773.5 274v3M773.5 280v3M773.5 286v3M773.5 292v3M773.5 298v3M773.5 304v3M773.5 310v3M773.5 316v3M773.5 322v3M773.5 328v3M773.5 334v3M773.5 340v3M773.5 346v3M773.5 352v3M773.5 358v3M773.5 364v3M773.5 370v3M773.5 376v3M773.5 382v3M773.5 388v3M773.5 394v3M773.5 400v3M773.5 406v3M773.5 412v3M773.5 418v3M773.5 424v3M773.5 430v3M773.5 436v3M773.5 442v3M773.5 448v3M773.5 454v3M773.5 460v3M773.5 466v3M773.5 472v3M773.5 478v3M773.5 484v3M773.5 490v3M773.5 496v3M773.5 502v3M773.5 508v3M773.5 514v3M773.5 520v3M773.5 526v3M773.5 532v3M773.5 538v3M773.5 544v3M773.5 550v3M773.5 556v3M773.5 562v3M773.5 568v3M773.5 574v3M773.5 580v3M773.5 586v3M773.5 592v3M773.5 598v3M773.5 604v3M773.5 610v3M773.5 616v3M773.5 622v3M773.5 628v3M837.5 5v2M837.5 10v3M837.5 16v3M837.5 22v3M837.5 28v3M837.5 34v3M837.5 40v3M837.5 46v3M837.5 52v3M837.5 58v3M837.5 64v3M837.5 70v3M837.5 76v3M837.5 82v3M837.5 88v3M837.5 94v3M837.5 100v3M837.5 106v3M837.5 112v3M837.5 118v3M837.5 124v3M837.5 130v3M837.5 136v3M837.5 142v3M837.5 148v3M837.5 154v3M837.5 160v3M837.5 166v3M837.5 172v3M837.5 178v3M837.5 184v3M837.5 190v3M837.5 196v3M837.5 202v3M837.5 208v3M837.5 214v3M837.5 220v3M837.5 226v3M837.5 232v3M837.5 238v3M837.5 244v3M837.5 250v3M837.5 256v3M837.5 262v3M837.5 268v3M837.5 274v3M837.5 280v3M837.5 286v3M837.5 292v3M837.5 298v3M837.5 304v3M837.5 310v3M837.5 316v3M837.5 322v3M837.5 328v3M837.5 334v3M837.5 340v3M837.5 346v3M837.5 352v3M837.5 358v3M837.5 364v3M837.5 370v3M837.5 376v3M837.5 382v3M837.5 388v3M837.5 394v3M837.5 400v3M837.5 406v3M837.5 412v3M837.5 418v3M837.5 424v3M837.5 430v3M837.5 436v3M837.5 442v3M837.5 448v3M837.5 454v3M837.5 460v3M837.5 466v3M837.5 472v3M837.5 478v3M837.5 484v3M837.5 490v3M837.5 496v3M837.5 502v3M837.5 508v3M837.5 514v3M837.5 520v3M837.5 526v3M837.5 532v3M837.5 538v3M837.5 544v3M837.5 550v3M837.5 556v3M837.5 562v3M837.5 568v3M837.5 574v3M837.5 580v3M837.5 586v3M837.5 592v3M837.5 598v3M837.5 604v3M837.5 610v3M837.5 616v3M837.5 622v3M837.5 628v3M901.5 5v2M901.5 10v3M901.5 16v3M901.5 22v3M901.5 28v3M901.5 34v3M901.5 40v3M901.5 46v3M901.5 52v3M901.5 58v3M901.5 64v3M901.5 70v3M901.5 76v3M901.5 82v3M901.5 88v3M901.5 94v3M901.5 100v3M901.5 106v3M901.5 112v3M901.5 118v3M901.5 124v3M901.5 130v3M901.5 136v3M901.5 142v3M901.5 148v3M901.5 154v3M901.5 160v3M901.5 166v3M901.5 172v3M901.5 178v3M901.5 184v3M901.5 190v3M901.5 196v3M901.5 202v3M901.5 208v3M901.5 214v3M901.5 220v3M901.5 226v3M901.5 232v3M901.5 238v3M901.5 244v3M901.5 250v3M901.5 256v3M901.5 262v3M901.5 268v3M901.5 274v3M901.5 280v3M901.5 286v3M901.5 292v3M901.5 298v3M901.5 304v3M901.5 310v3M901.5 316v3M901.5 322v3M901.5 328v3M901.5 334v3M901.5 340v3M901.5 346v3M901.5 352v3M901.5 358v3M901.5 364v3M901.5 370v3M901.5 376v3M901.5 382v3M901.5 388v3M901.5 394v3M901.5 400v3M901.5 406v3M901.5 412v3M901.5 418v3M901.5 424v3M901.5 430v3M901.5 436v3M901.5 442v3M901.5 448v3M901.5 454v3M901.5 460v3M901.5 466v3M901.5 472v3M901.5 478v3M901.5 484v3M901.5 490v3M901.5 496v3M901.5 502v3M901.5 508v3M901.5 514v3M901.5 520v3M901.5 526v3M901.5 532v3M901.5 538v3M901.5 544v3M901.5 550v3M901.5 556v3M901.5 562v3M901.5 568v3M901.5 574v3M901.5 580v3M901.5 586v3M901.5 592v3M901.5 598v3M901.5 604v3M901.5 610v3M901.5 616v3M901.5 622v3M901.5 628v3M965.5 5v2M965.5 10v3M965.5 16v3M965.5 22v3M965.5 28v3M965.5 34v3M965.5 40v3M965.5 46v3M965.5 52v3M965.5 58v3M965.5 64v3M965.5 70v3M965.5 76v3M965.5 82v3M965.5 88v3M965.5 94v3M965.5 100v3M965.5 106v3M965.5 112v3M965.5 118v3M965.5 124v3M965.5 130v3M965.5 136v3M965.5 142v3M965.5 148v3M965.5 154v3M965.5 160v3M965.5 166v3M965.5 172v3M965.5 178v3M965.5 184v3M965.5 190v3M965.5 196v3M965.5 202v3M965.5 208v3M965.5 214v3M965.5 220v3M965.5 226v3M965.5 232v3M965.5 238v3M965.5 244v3M965.5 250v3M965.5 256v3M965.5 262v3M965.5 268v3M965.5 274v3M965.5 280v3M965.5 286v3M965.5 292v3M965.5 298v3M965.5 304v3M965.5 310v3M965.5 316v3M965.5 322v3M965.5 328v3M965.5 334v3M965.5 340v3M965.5 346v3M965.5 352v3M965.5 358v3M965.5 364v3M965.5 370v3M965.5 376v3M965.5 382v3M965.5 388v3M965.5 394v3M965.5 400v3M965.5 406v3M965.5 412v3M965.5 418v3M965.5 424v3M965.5 430v3M965.5 436v3M965.5 442v3M965.5 448v3M965.5 454v3M965.5 460v3M965.5 466v3M965.5 472v3M965.5 478v3M965.5 484v3M965.5 490v3M965.5 496v3M965.5 502v3M965.5 508v3M965.5 514v3M965.5 520v3M965.5 526v3M965.5 532v3M965.5 538v3M965.5 544v3M965.5 550v3M965.5 556v3M965.5 562v3M965.5 568v3M965.5 574v3M965.5 580v3M965.5 586v3M965.5 592v3M965.5 598v3M965.5 604v3M965.5 610v3M965.5 616v3M965.5 622v3M965.5 628v3M1029.5 5v2M1029.5 10v3M1029.5 16v3M1029.5 22v3M1029.5 28v3M1029.5 34v3M1029.5 40v3M1029.5 46v3M1029.5 52v3M1029.5 58v3M1029.5 64v3M1029.5 70v3M1029.5 76v3M1029.5 82v3M1029.5 88v3M1029.5 94v3M1029.5 100v3M1029.5 106v3M1029.5 112v3M1029.5 118v3M1029.5 124v3M1029.5 130v3M1029.5 136v3M1029.5 142v3M1029.5 148v3M1029.5 154v3M1029.5 160v3M1029.5 166v3M1029.5 172v3M1029.5 178v3M1029.5 184v3M1029.5 190v3M1029.5 196v3M1029.5 202v3M1029.5 208v3M1029.5 214v3M1029.5 220v3M1029.5 226v3M1029.5 232v3M1029.5 238v3M1029.5 244v3M1029.5 250v3M1029.5 256v3M1029.5 262v3M1029.5 268v3M1029.5 274v3M1029.5 280v3M1029.5 286v3M1029.5 292v3M1029.5 298v3M1029.5 304v3M1029.5 310v3M1029.5 316v3M1029.5 322v3M1029.5 328v3M1029.5 334v3M1029.5 340v3M1029.5 346v3M1029.5 352v3M1029.5 358v3M1029.5 364v3M1029.5 370v3M1029.5 376v3M1029.5 382v3M1029.5 388v3M1029.5 394v3M1029.5 400v3M1029.5 406v3M1029.5 412v3M1029.5 418v3M1029.5 424v3M1029.5 430v3M1029.5 436v3M1029.5 442v3M1029.5 448v3M1029.5 454v3M1029.5 460v3M1029.5 466v3M1029.5 472v3M1029.5 478v3M1029.5 484v3M1029.5 490v3M1029.5 496v3M1029.5 502v3M1029.5 508v3M1029.5 514v3M1029.5 520v3M1029.5 526v3M1029.5 532v3M1029.5 538v3M1029.5 544v3M1029.5 550v3M1029.5 556v3M1029.5 562v3M1029.5 568v3M1029.5 574v3M1029.5 580v3M1029.5 586v3M1029.5 592v3M1029.5 598v3M1029.5 604v3M1029.5 610v3M1029.5 616v3M1029.5 622v3M1029.5 628v3M1093.5 5v2M1093.5 10v3M1093.5 16v3M1093.5 22v3M1093.5 28v3M1093.5 34v3M1093.5 40v3M1093.5 46v3M1093.5 52v3M1093.5 58v3M1093.5 64v3M1093.5 70v3M1093.5 76v3M1093.5 82v3M1093.5 88v3M1093.5 94v3M1093.5 100v3M1093.5 106v3M1093.5 112v3M1093.5 118v3M1093.5 124v3M1093.5 130v3M1093.5 136v3M1093.5 142v3M1093.5 148v3M1093.5 154v3M1093.5 160v3M1093.5 166v3M1093.5 172v3M1093.5 178v3M1093.5 184v3M1093.5 190v3M1093.5 196v3M1093.5 202v3M1093.5 208v3M1093.5 214v3M1093.5 220v3M1093.5 226v3M1093.5 232v3M1093.5 238v3M1093.5 244v3M1093.5 250v3M1093.5 256v3M1093.5 262v3M1093.5 268v3M1093.5 274v3M1093.5 280v3M1093.5 286v3M1093.5 292v3M1093.5 298v3M1093.5 304v3M1093.5 310v3M1093.5 316v3M1093.5 322v3M1093.5 328v3M1093.5 334v3M1093.5 340v3M1093.5 346v3M1093.5 352v3M1093.5 358v3M1093.5 364v3M1093.5 370v3M1093.5 376v3M1093.5 382v3M1093.5 388v3M1093.5 394v3M1093.5 400v3M1093.5 406v3M1093.5 412v3M1093.5 418v3M1093.5 424v3M1093.5 430v3M1093.5 436v3M1093.5 442v3M1093.5 448v3M1093.5 454v3M1093.5 460v3M1093.5 466v3M1093.5 472v3M1093.5 478v3M1093.5 484v3M1093.5 490v3M1093.5 496v3M1093.5 502v3M1093.5 508v3M1093.5 514v3M1093.5 520v3M1093.5 526v3M1093.5 532v3M1093.5 538v3M1093.5 544v3M1093.5 550v3M1093.5 556v3M1093.5 562v3M1093.5 568v3M1093.5 574v3M1093.5 580v3M1093.5 586v3M1093.5 592v3M1093.5 598v3M1093.5 604v3M1093.5 610v3M1093.5 616v3M1093.5 622v3M1093.5 628v3M1157.5 5v2M1157.5 10v3M1157.5 16v3M1157.5 22v3M1157.5 28v3M1157.5 34v3M1157.5 40v3M1157.5 46v3M1157.5 52v3M1157.5 58v3M1157.5 64v3M1157.5 70v3M1157.5 76v3M1157.5 82v3M1157.5 88v3M1157.5 94v3M1157.5 100v3M1157.5 106v3M1157.5 112v3M1157.5 118v3M1157.5 124v3M1157.5 130v3M1157.5 136v3M1157.5 142v3M1157.5 148v3M1157.5 154v3M1157.5 160v3M1157.5 166v3M1157.5 172v3M1157.5 178v3M1157.5 184v3M1157.5 190v3M1157.5 196v3M1157.5 202v3M1157.5 208v3M1157.5 214v3M1157.5 220v3M1157.5 226v3M1157.5 232v3M1157.5 238v3M1157.5 244v3M1157.5 250v3M1157.5 256v3M1157.5 262v3M1157.5 268v3M1157.5 274v3M1157.5 280v3M1157.5 286v3M1157.5 292v3M1157.5 298v3M1157.5 304v3M1157.5 310v3M1157.5 316v3M1157.5 322v3M1157.5 328v3M1157.5 334v3M1157.5 340v3M1157.5 346v3M1157.5 352v3M1157.5 358v3M1157.5 364v3M1157.5 370v3M1157.5 376v3M1157.5 382v3M1157.5 388v3M1157.5 394v3M1157.5 400v3M1157.5 406v3M1157.5 412v3M1157.5 418v3M1157.5 424v3M1157.5 430v3M1157.5 436v3M1157.5 442v3M1157.5 448v3M1157.5 454v3M1157.5 460v3M1157.5 466v3M1157.5 472v3M1157.5 478v3M1157.5 484v3M1157.5 490v3M1157.5 496v3M1157.5 502v3M1157.5 508v3M1157.5 514v3M1157.5 520v3M1157.5 526v3M1157.5 532v3M1157.5 538v3M1157.5 544v3M1157.5 550v3M1157.5 556v3M1157.5 562v3M1157.5 568v3M1157.5 574v3M1157.5 580v3M1157.5 586v3M1157.5 592v3M1157.5 598v3M1157.5 604v3M1157.5 610v3M1157.5 616v3M1157.5 622v3M1157.5 628v3M1221.5 5v2M1221.5 10v3M1221.5 16v3M1221.5 22v3M1221.5 28v3M1221.5 34v3M1221.5 40v3M1221.5 46v3M1221.5 52v3M1221.5 58v3M1221.5 64v3M1221.5 70v3M1221.5 76v3M1221.5 82v3M1221.5 88v3M1221.5 94v3M1221.5 100v3M1221.5 106v3M1221.5 112v3M1221.5 118v3M1221.5 124v3M1221.5 130v3M1221.5 136v3M1221.5 142v3M1221.5 148v3M1221.5 154v3M1221.5 160v3M1221.5 166v3M1221.5 172v3M1221.5 178v3M1221.5 184v3M1221.5 190v3M1221.5 196v3M1221.5 202v3M1221.5 208v3M1221.5 214v3M1221.5 220v3M1221.5 226v3M1221.5 232v3M1221.5 238v3M1221.5 244v3M1221.5 250v3M1221.5 256v3M1221.5 262v3M1221.5 268v3M1221.5 274v3M1221.5 280v3M1221.5 286v3M1221.5 292v3M1221.5 298v3M1221.5 304v3M1221.5 310v3M1221.5 316v3M1221.5 322v3M1221.5 328v3M1221.5 334v3M1221.5 340v3M1221.5 346v3M1221.5 352v3M1221.5 358v3M1221.5 364v3M1221.5 370v3M1221.5 376v3M1221.5 382v3M1221.5 388v3M1221.5 394v3M1221.5 400v3M1221.5 406v3M1221.5 412v3M1221.5 418v3M1221.5 424v3M1221.5 430v3M1221.5 436v3M1221.5 442v3M1221.5 448v3M1221.5 454v3M1221.5 460v3M1221.5 466v3M1221.5 472v3M1221.5 478v3M1221.5 484v3M1221.5 490v3M1221.5 496v3M1221.5 502v3M1221.5 508v3M1221.5 514v3M1221.5 520v3M1221.5 526v3M1221.5 532v3M1221.5 538v3M1221.5 544v3M1221.5 550v3M1221.5 556v3M1221.5 562v3M1221.5 568v3M1221.5 574v3M1221.5 580v3M1221.5 586v3M1221.5 592v3M1221.5 598v3M1221.5 604v3M1221.5 610v3M1221.5 616v3M1221.5 622v3M1221.5 628v3M1285.5 5v2M1285.5 10v3M1285.5 16v3M1285.5 22v3M1285.5 28v3M1285.5 34v3M1285.5 40v3M1285.5 46v3M1285.5 52v3M1285.5 58v3M1285.5 64v3M1285.5 70v3M1285.5 76v3M1285.5 82v3M1285.5 88v3M1285.5 94v3M1285.5 100v3M1285.5 106v3M1285.5 112v3M1285.5 118v3M1285.5 124v3M1285.5 130v3M1285.5 136v3M1285.5 142v3M1285.5 148v3M1285.5 154v3M1285.5 160v3M1285.5 166v3M1285.5 172v3M1285.5 178v3M1285.5 184v3M1285.5 190v3M1285.5 196v3M1285.5 202v3M1285.5 208v3M1285.5 214v3M1285.5 220v3M1285.5 226v3M1285.5 232v3M1285.5 238v3M1285.5 244v3M1285.5 250v3M1285.5 256v3M1285.5 262v3M1285.5 268v3M1285.5 274v3M1285.5 280v3M1285.5 286v3M1285.5 292v3M1285.5 298v3M1285.5 304v3M1285.5 310v3M1285.5 316v3M1285.5 322v3M1285.5 328v3M1285.5 334v3M1285.5 340v3M1285.5 346v3M1285.5 352v3M1285.5 358v3M1285.5 364v3M1285.5 370v3M1285.5 376v3M1285.5 382v3M1285.5 388v3M1285.5 394v3M1285.5 400v3M1285.5 406v3M1285.5 412v3M1285.5 418v3M1285.5 424v3M1285.5 430v3M1285.5 436v3M1285.5 442v3M1285.5 448v3M1285.5 454v3M1285.5 460v3M1285.5 466v3M1285.5 472v3M1285.5 478v3M1285.5 484v3M1285.5 490v3M1285.5 496v3M1285.5 502v3M1285.5 508v3M1285.5 514v3M1285.5 520v3M1285.5 526v3M1285.5 532v3M1285.5 538v3M1285.5 544v3M1285.5 550v3M1285.5 556v3M1285.5 562v3M1285.5 568v3M1285.5 574v3M1285.5 580v3M1285.5 586v3M1285.5 592v3M1285.5 598v3M1285.5 604v3M1285.5 610v3M1285.5 616v3M1285.5 622v3M1285.5 628v3M1349.5 5v2M1349.5 10v3M1349.5 16v3M1349.5 22v3M1349.5 28v3M1349.5 34v3M1349.5 40v3M1349.5 46v3M1349.5 52v3M1349.5 58v3M1349.5 64v3M1349.5 70v3M1349.5 76v3M1349.5 82v3M1349.5 88v3M1349.5 94v3M1349.5 100v3M1349.5 106v3M1349.5 112v3M1349.5 118v3M1349.5 124v3M1349.5 130v3M1349.5 136v3M1349.5 142v3M1349.5 148v3M1349.5 154v3M1349.5 160v3M1349.5 166v3M1349.5 172v3M1349.5 178v3M1349.5 184v3M1349.5 190v3M1349.5 196v3M1349.5 202v3M1349.5 208v3M1349.5 214v3M1349.5 220v3M1349.5 226v3M1349.5 232v3M1349.5 238v3M1349.5 244v3M1349.5 250v3M1349.5 256v3M1349.5 262v3M1349.5 268v3M1349.5 274v3M1349.5 280v3M1349.5 286v3M1349.5 292v3M1349.5 298v3M1349.5 304v3M1349.5 310v3M1349.5 316v3M1349.5 322v3M1349.5 328v3M1349.5 334v3M1349.5 340v3M1349.5 346v3M1349.5 352v3M1349.5 358v3M1349.5 364v3M1349.5 370v3M1349.5 376v3M1349.5 382v3M1349.5 388v3M1349.5 394v3M1349.5 400v3M1349.5 406v3M1349.5 412v3M1349.5 418v3M1349.5 424v3M1349.5 430v3M1349.5 436v3M1349.5 442v3M1349.5 448v3M1349.5 454v3M1349.5 460v3M1349.5 466v3M1349.5 472v3M1349.5 478v3M1349.5 484v3M1349.5 490v3M1349.5 496v3M1349.5 502v3M1349.5 508v3M1349.5 514v3M1349.5 520v3M1349.5 526v3M1349.5 532v3M1349.5 538v3M1349.5 544v3M1349.5 550v3M1349.5 556v3M1349.5 562v3M1349.5 568v3M1349.5 574v3M1349.5 580v3M1349.5 586v3M1349.5 592v3M1349.5 598v3M1349.5 604v3M1349.5 610v3M1349.5 616v3M1349.5 622v3M1349.5 628v3M1413.5 5v2M1413.5 10v3M1413.5 16v3M1413.5 22v3M1413.5 28v3M1413.5 34v3M1413.5 40v3M1413.5 46v3M1413.5 52v3M1413.5 58v3M1413.5 64v3M1413.5 70v3M1413.5 76v3M1413.5 82v3M1413.5 88v3M1413.5 94v3M1413.5 100v3M1413.5 106v3M1413.5 112v3M1413.5 118v3M1413.5 124v3M1413.5 130v3M1413.5 136v3M1413.5 142v3M1413.5 148v3M1413.5 154v3M1413.5 160v3M1413.5 166v3M1413.5 172v3M1413.5 178v3M1413.5 184v3M1413.5 190v3M1413.5 196v3M1413.5 202v3M1413.5 208v3M1413.5 214v3M1413.5 220v3M1413.5 226v3M1413.5 232v3M1413.5 238v3M1413.5 244v3M1413.5 250v3M1413.5 256v3M1413.5 262v3M1413.5 268v3M1413.5 274v3M1413.5 280v3M1413.5 286v3M1413.5 292v3M1413.5 298v3M1413.5 304v3M1413.5 310v3M1413.5 316v3M1413.5 322v3M1413.5 328v3M1413.5 334v3M1413.5 340v3M1413.5 346v3M1413.5 352v3M1413.5 358v3M1413.5 364v3M1413.5 370v3M1413.5 376v3M1413.5 382v3M1413.5 388v3M1413.5 394v3M1413.5 400v3M1413.5 406v3M1413.5 412v3M1413.5 418v3M1413.5 424v3M1413.5 430v3M1413.5 436v3M1413.5 442v3M1413.5 448v3M1413.5 454v3M1413.5 460v3M1413.5 466v3M1413.5 472v3M1413.5 478v3M1413.5 484v3M1413.5 490v3M1413.5 496v3M1413.5 502v3M1413.5 508v3M1413.5 514v3M1413.5 520v3M1413.5 526v3M1413.5 532v3M1413.5 538v3M1413.5 544v3M1413.5 550v3M1413.5 556v3M1413.5 562v3M1413.5 568v3M1413.5 574v3M1413.5 580v3M1413.5 586v3M1413.5 592v3M1413.5 598v3M1413.5 604v3M1413.5 610v3M1413.5 616v3M1413.5 622v3M1413.5 628v3" stroke="#778899" stroke-width="1" fill="none"/><rect x="5" y="514" width="1447" height="1" fill="#778899"/><path d="M5.5 35V69M13.5 48V143M21.5 108V145M29.5 100V127M37.5 94V119M45.5 104V153M53.5 135V171M61.5 128V195M69.5 147V176M77.5 162V174M85.5 160V183M93.5 142V190M101.5 129V181M109.5 130V194M117.5 167V215M125.5 202V217M133.5 154V213M141.5 151V179M149.5 154V218M157.5 144V224M165.5 142V170M173.5 138V153M181.5 140V165M189.5 110V163M197.5 92V121M205.5 87V154M213.5 67V143M221.5 88V113M229.5 45V112M237.5 45V94M245.5 51V97M253.5 63V278M261.5 236V279M269.5 245V273M277.5 205V258M285.5 194V245M293.5 187V247M301.5 155V223M309.5 155V182M317.5 175V192M325.5 182V213M333.5 192V218M341.5 169V229M349.5 102V191M357.5 103V150M365.5 140V153M373.5 148V182M381.5 161V209M389.5 189V217M397.5 199V286M405.5 260V287M413.5 217V271M421.5 221V256M429.5 232V264M437.5 206V245M445.5 223V336M453.5 298V322M461.5 311V328M469.5 299V331M477.5 303V348M485.5 302V337M493.5 300V356M501.5 317V339M509.5 310V331M517.5 305V328M525.5 308V341M533.5 327V346M541.5 253V380M549.5 271V296M557.5 270V279M565.5 262V305M573.5 297V322M581.5 307V334M589.5 283V345M597.5 307V341M605.5 304V321M613.5 309V347M621.5 323V352M629.5 319V365M637.5 340V396M645.5 361V391M653.5 377V385M661.5 347V388M669.5 338V362M677.5 348V393M685.5 366V439M693.5 421V440M701.5 429V447M709.5 416V440M717.5 407V438M725.5 395V421M733.5 351V454M741.5 401V454M749.5 448V466M757.5 435V460M765.5 421V455M773.5 412V435M781.5 405V454M789.5 437V457M797.5 444V457M805.5 447V468M813.5 435V468M821.5 433V457M829.5 446V515M837.5 451V487M845.5 481V501M853.5 480V509M861.5 484V510M869.5 497V519M877.5 460V552M885.5 485V516M893.5 507V529M901.5 496V527M909.5 490V513M917.5 486V511M925.5 490V533M933.5 513V579M941.5 558V578M949.5 564V592M957.5 543V577M965.5 531V568M973.5 508V593M981.5 580V615M989.5 578V599M997.5 557V585M1005.5 563V582M1013.5 555V580M1021.5 547V597M1029.5 576V607M1037.5 586V595M1045.5 566V619M1053.5 563V605M1061.5 569V608M1069.5 536V615M1077.5 556V593M1085.5 552V563M1093.5 544V568M1101.5 517V567M1109.5 502V540M1117.5 508V594M1125.5 535V552M1133.5 536V547M1141.5 511V538" stroke="#000" stroke-width="1" fill="none"/><path d="M3 49h5v14h-5zM11 49h5v76h-5zM19 124h5v2h-5zM27 103h5v22h-5zM35 103h5v14h-5zM43 115h5v37h-5zM51 141h5v10h-5zM59 141h5v34h-5zM67 157h5v18h-5zM75 164h5v5h-5zM83 168h5v7h-5zM91 156h5v19h-5zM99 146h5v11h-5zM107 146h5v32h-5zM115 177h5v33h-5zM123 208h5v2h-5zM131 166h5v43h-5zM139 166h5v3h-5zM147 168h5v4h-5zM155 150h5v22h-5zM163 149h5v2h-5zM171 144h5v7h-5zM179 144h5v9h-5zM187 113h5v40h-5zM195 105h5v9h-5zM203 102h5v4h-5zM211 88h5v15h-5zM219 88h5v17h-5zM227 70h5v35h-5zM235 58h5v13h-5zM243 58h5v6h-5zM251 63h5v190h-5zM259 252h5v17h-5zM267 249h5v20h-5zM275 209h5v41h-5zM283 209h5v28h-5zM291 195h5v42h-5zM299 170h5v26h-5zM307 170h5v12h-5zM315 175h5v12h-5zM323 186h5v22h-5zM331 205h5v3h-5zM339 181h5v25h-5zM347 113h5v69h-5zM355 113h5v37h-5zM363 149h5v4h-5zM371 152h5v11h-5zM379 162h5v41h-5zM387 202h5v12h-5zM395 213h5v56h-5zM403 268h5v2h-5zM411 221h5v47h-5zM419 221h5v18h-5zM427 238h5v7h-5zM435 230h5v15h-5zM443 230h5v90h-5zM451 319h5v3h-5zM459 316h5v6h-5zM467 309h5v8h-5zM475 309h5v3h-5zM483 311h5v12h-5zM491 322h5v13h-5zM499 327h5v8h-5zM507 318h5v10h-5zM515 318h5v4h-5zM523 321h5v15h-5zM531 335h5v4h-5zM539 277h5v62h-5zM547 277h5v10h-5zM555 270h5v2h-5zM563 270h5v28h-5zM571 297h5v16h-5zM579 312h5v4h-5zM587 315h5v23h-5zM595 312h5v26h-5zM603 312h5v2h-5zM611 312h5v22h-5zM619 333h5v17h-5zM627 349h5v11h-5zM635 359h5v18h-5zM643 376h5v7h-5zM651 378h5v5h-5zM659 351h5v28h-5zM667 348h5v4h-5zM675 348h5v37h-5zM683 384h5v47h-5zM691 430h5v8h-5zM699 430h5v8h-5zM707 419h5v12h-5zM715 414h5v5h-5zM723 400h5v15h-5zM731 400h5v11h-5zM739 410h5v41h-5zM747 450h5v7h-5zM755 442h5v15h-5zM763 423h5v20h-5zM771 416h5v8h-5zM779 417h5v30h-5zM787 446h5v5h-5zM795 448h5v2h-5zM803 448h5v6h-5zM811 443h5v11h-5zM819 443h5v4h-5zM827 446h5v21h-5zM835 466h5v19h-5zM843 484h5v2h-5zM851 484h5v3h-5zM859 486h5v14h-5zM867 499h5v6h-5zM875 488h5v17h-5zM883 488h5v25h-5zM891 513h5v8h-5zM899 504h5v17h-5zM907 502h5v3h-5zM915 502h5v9h-5zM923 510h5v8h-5zM931 517h5v60h-5zM939 568h5v9h-5zM947 567h5v5h-5zM955 549h5v23h-5zM963 535h5v15h-5zM971 535h5v56h-5zM979 590h5v4h-5zM987 580h5v14h-5zM995 571h5v10h-5zM1003 572h5v2h-5zM1011 565h5v8h-5zM1019 565h5v16h-5zM1027 580h5v17h-5zM1035 586h5v2h-5zM1043 578h5v10h-5zM1051 577h5v22h-5zM1059 569h5v30h-5zM1067 569h5v24h-5zM1075 562h5v31h-5zM1083 559h5v4h-5zM1091 552h5v8h-5zM1099 520h5v33h-5zM1107 516h5v4h-5zM1115 516h5v26h-5zM1123 541h5v2h-5zM1131 537h5v7h-5zM1139 514h5v24h-5z" fill="#000"/><path d="M4 50h3v12h-3zM28 104h3v20h-3zM52 142h3v8h-3zM68 158h3v16h-3zM92 157h3v17h-3zM100 147h3v9h-3zM132 167h3v41h-3zM156 151h3v20h-3zM172 145h3v5h-3zM188 114h3v38h-3zM196 106h3v7h-3zM204 103h3v2h-3zM212 89h3v13h-3zM228 71h3v33h-3zM236 59h3v11h-3zM268 250h3v18h-3zM276 210h3v39h-3zM292 196h3v40h-3zM300 171h3v24h-3zM332 206h3v1h-3zM340 182h3v23h-3zM348 114h3v67h-3zM412 222h3v45h-3zM436 231h3v13h-3zM460 317h3v4h-3zM468 310h3v6h-3zM500 328h3v6h-3zM508 319h3v8h-3zM540 278h3v60h-3zM596 313h3v24h-3zM652 379h3v3h-3zM660 352h3v26h-3zM668 349h3v2h-3zM700 431h3v6h-3zM708 420h3v10h-3zM716 415h3v3h-3zM724 401h3v13h-3zM756 443h3v13h-3zM764 424h3v18h-3zM772 417h3v6h-3zM812 444h3v9h-3zM876 489h3v15h-3zM900 505h3v15h-3zM908 503h3v1h-3zM940 569h3v7h-3zM956 550h3v21h-3zM964 536h3v13h-3zM988 581h3v12h-3zM996 572h3v8h-3zM1012 566h3v6h-3zM1044 579h3v8h-3zM1060 570h3v28h-3zM1076 563h3v29h-3zM1084 560h3v2h-3zM1092 553h3v6h-3zM1100 521h3v31h-3zM1108 517h3v2h-3zM1132 538h3v5h-3zM1140 515h3v22h-3z" fill="#ff0000"/><path d="M12 50h3v74h-3zM36 104h3v12h-3zM44 116h3v35h-3zM60 142h3v32h-3zM76 165h3v3h-3zM84 169h3v5h-3zM108 147h3v30h-3zM116 178h3v31h-3zM140 167h3v1h-3zM148 169h3v2h-3zM180 145h3v7h-3zM220 89h3v15h-3zM244 59h3v4h-3zM252 64h3v188h-3zM260 253h3v15h-3zM284 210h3v26h-3zM308 171h3v10h-3zM316 176h3v10h-3zM324 187h3v20h-3zM356 114h3v35h-3zM364 150h3v2h-3zM372 153h3v9h-3zM380 163h3v39h-3zM388 203h3v10h-3zM396 214h3v54h-3zM420 222h3v16h-3zM428 239h3v5h-3zM444 231h3v88h-3zM452 320h3v1h-3zM476 310h3v1h-3zM484 312h3v10h-3zM492 323h3v11h-3zM516 319h3v2h-3zM524 322h3v13h-3zM532 336h3v2h-3zM548 278h3v8h-3zM564 271h3v26h-3zM572 298h3v14h-3zM580 313h3v2h-3zM588 316h3v21h-3zM612 313h3v20h-3zM620 334h3v15h-3zM628 350h3v9h-3zM636 360h3v16h-3zM644 377h3v5h-3zM676 349h3v35h-3zM684 385h3v45h-3zM692 431h3v6h-3zM732 401h3v9h-3zM740 411h3v39h-3zM748 451h3v5h-3zM780 418h3v28h-3zM788 447h3v3h-3zM804 449h3v4h-3zM820 444h3v2h-3zM828 447h3v19h-3zM836 467h3v17h-3zM852 485h3v1h-3zM860 487h3v12h-3zM868 500h3v4h-3zM884 489h3v23h-3zM892 514h3v6h-3zM916 503h3v7h-3zM924 511h3v6h-3zM932 518h3v58h-3zM948 568h3v3h-3zM972 536h3v54h-3zM980 591h3v2h-3zM1020 566h3v14h-3zM1028 581h3v15h-3zM1052 578h3v20h-3zM1068 570h3v22h-3zM1116 517h3v24h-3z" fill="#00ff00"/><rect x="5" y="37" width="1448" height="4" fill="#000"/><rect x="5" y="467" width="1448" height="4" fill="#000"/><rect x="5" y="585" width="1448" height="4" fill="#0000cd"/><rect x="5" y="614" width="1448" height="4" fill="#0000cd"/><g shape-rendering="auto"><line x1="1148.7" y1="613" x2="1183.5" y2="484" stroke="#ff0000" stroke-width="6" stroke-linecap="round"/><polygon points="1193.5,449 1172,480.5 1195.5,486" fill="#ff0000"/></g></svg><svg x="5" y="636" width="1447" height="148" viewBox="5 636 1447 148" overflow="hidden"><path d="M6 714.5h3M12 714.5h3M18 714.5h3M24 714.5h3M30 714.5h3M36 714.5h3M42 714.5h3M48 714.5h3M54 714.5h3M60 714.5h3M66 714.5h3M72 714.5h3M78 714.5h3M84 714.5h3M90 714.5h3M96 714.5h3M102 714.5h3M108 714.5h3M114 714.5h3M120 714.5h3M126 714.5h3M132 714.5h3M138 714.5h3M144 714.5h3M150 714.5h3M156 714.5h3M162 714.5h3M168 714.5h3M174 714.5h3M180 714.5h3M186 714.5h3M192 714.5h3M198 714.5h3M204 714.5h3M210 714.5h3M216 714.5h3M222 714.5h3M228 714.5h3M234 714.5h3M240 714.5h3M246 714.5h3M252 714.5h3M258 714.5h3M264 714.5h3M270 714.5h3M276 714.5h3M282 714.5h3M288 714.5h3M294 714.5h3M300 714.5h3M306 714.5h3M312 714.5h3M318 714.5h3M324 714.5h3M330 714.5h3M336 714.5h3M342 714.5h3M348 714.5h3M354 714.5h3M360 714.5h3M366 714.5h3M372 714.5h3M378 714.5h3M384 714.5h3M390 714.5h3M396 714.5h3M402 714.5h3M408 714.5h3M414 714.5h3M420 714.5h3M426 714.5h3M432 714.5h3M438 714.5h3M444 714.5h3M450 714.5h3M456 714.5h3M462 714.5h3M468 714.5h3M474 714.5h3M480 714.5h3M486 714.5h3M492 714.5h3M498 714.5h3M504 714.5h3M510 714.5h3M516 714.5h3M522 714.5h3M528 714.5h3M534 714.5h3M540 714.5h3M546 714.5h3M552 714.5h3M558 714.5h3M564 714.5h3M570 714.5h3M576 714.5h3M582 714.5h3M588 714.5h3M594 714.5h3M600 714.5h3M606 714.5h3M612 714.5h3M618 714.5h3M624 714.5h3M630 714.5h3M636 714.5h3M642 714.5h3M648 714.5h3M654 714.5h3M660 714.5h3M666 714.5h3M672 714.5h3M678 714.5h3M684 714.5h3M690 714.5h3M696 714.5h3M702 714.5h3M708 714.5h3M714 714.5h3M720 714.5h3M726 714.5h3M732 714.5h3M738 714.5h3M744 714.5h3M750 714.5h3M756 714.5h3M762 714.5h3M768 714.5h3M774 714.5h3M780 714.5h3M786 714.5h3M792 714.5h3M798 714.5h3M804 714.5h3M810 714.5h3M816 714.5h3M822 714.5h3M828 714.5h3M834 714.5h3M840 714.5h3M846 714.5h3M852 714.5h3M858 714.5h3M864 714.5h3M870 714.5h3M876 714.5h3M882 714.5h3M888 714.5h3M894 714.5h3M900 714.5h3M906 714.5h3M912 714.5h3M918 714.5h3M924 714.5h3M930 714.5h3M936 714.5h3M942 714.5h3M948 714.5h3M954 714.5h3M960 714.5h3M966 714.5h3M972 714.5h3M978 714.5h3M984 714.5h3M990 714.5h3M996 714.5h3M1002 714.5h3M1008 714.5h3M1014 714.5h3M1020 714.5h3M1026 714.5h3M1032 714.5h3M1038 714.5h3M1044 714.5h3M1050 714.5h3M1056 714.5h3M1062 714.5h3M1068 714.5h3M1074 714.5h3M1080 714.5h3M1086 714.5h3M1092 714.5h3M1098 714.5h3M1104 714.5h3M1110 714.5h3M1116 714.5h3M1122 714.5h3M1128 714.5h3M1134 714.5h3M1140 714.5h3M1146 714.5h3M1152 714.5h3M1158 714.5h3M1164 714.5h3M1170 714.5h3M1176 714.5h3M1182 714.5h3M1188 714.5h3M1194 714.5h3M1200 714.5h3M1206 714.5h3M1212 714.5h3M1218 714.5h3M1224 714.5h3M1230 714.5h3M1236 714.5h3M1242 714.5h3M1248 714.5h3M1254 714.5h3M1260 714.5h3M1266 714.5h3M1272 714.5h3M1278 714.5h3M1284 714.5h3M1290 714.5h3M1296 714.5h3M1302 714.5h3M1308 714.5h3M1314 714.5h3M1320 714.5h3M1326 714.5h3M1332 714.5h3M1338 714.5h3M1344 714.5h3M1350 714.5h3M1356 714.5h3M1362 714.5h3M1368 714.5h3M1374 714.5h3M1380 714.5h3M1386 714.5h3M1392 714.5h3M1398 714.5h3M1404 714.5h3M1410 714.5h3M1416 714.5h3M1422 714.5h3M1428 714.5h3M1434 714.5h3M1440 714.5h3M1446 714.5h3M69.5 636v1M69.5 640v3M69.5 646v3M69.5 652v3M69.5 658v3M69.5 664v3M69.5 670v3M69.5 676v3M69.5 682v3M69.5 688v3M69.5 694v3M69.5 700v3M69.5 706v3M69.5 712v3M69.5 718v3M69.5 724v3M69.5 730v3M69.5 736v3M69.5 742v3M69.5 748v3M69.5 754v3M69.5 760v3M69.5 766v3M69.5 772v3M69.5 778v3M133.5 636v1M133.5 640v3M133.5 646v3M133.5 652v3M133.5 658v3M133.5 664v3M133.5 670v3M133.5 676v3M133.5 682v3M133.5 688v3M133.5 694v3M133.5 700v3M133.5 706v3M133.5 712v3M133.5 718v3M133.5 724v3M133.5 730v3M133.5 736v3M133.5 742v3M133.5 748v3M133.5 754v3M133.5 760v3M133.5 766v3M133.5 772v3M133.5 778v3M197.5 636v1M197.5 640v3M197.5 646v3M197.5 652v3M197.5 658v3M197.5 664v3M197.5 670v3M197.5 676v3M197.5 682v3M197.5 688v3M197.5 694v3M197.5 700v3M197.5 706v3M197.5 712v3M197.5 718v3M197.5 724v3M197.5 730v3M197.5 736v3M197.5 742v3M197.5 748v3M197.5 754v3M197.5 760v3M197.5 766v3M197.5 772v3M197.5 778v3M261.5 636v1M261.5 640v3M261.5 646v3M261.5 652v3M261.5 658v3M261.5 664v3M261.5 670v3M261.5 676v3M261.5 682v3M261.5 688v3M261.5 694v3M261.5 700v3M261.5 706v3M261.5 712v3M261.5 718v3M261.5 724v3M261.5 730v3M261.5 736v3M261.5 742v3M261.5 748v3M261.5 754v3M261.5 760v3M261.5 766v3M261.5 772v3M261.5 778v3M325.5 636v1M325.5 640v3M325.5 646v3M325.5 652v3M325.5 658v3M325.5 664v3M325.5 670v3M325.5 676v3M325.5 682v3M325.5 688v3M325.5 694v3M325.5 700v3M325.5 706v3M325.5 712v3M325.5 718v3M325.5 724v3M325.5 730v3M325.5 736v3M325.5 742v3M325.5 748v3M325.5 754v3M325.5 760v3M325.5 766v3M325.5 772v3M325.5 778v3M389.5 636v1M389.5 640v3M389.5 646v3M389.5 652v3M389.5 658v3M389.5 664v3M389.5 670v3M389.5 676v3M389.5 682v3M389.5 688v3M389.5 694v3M389.5 700v3M389.5 706v3M389.5 712v3M389.5 718v3M389.5 724v3M389.5 730v3M389.5 736v3M389.5 742v3M389.5 748v3M389.5 754v3M389.5 760v3M389.5 766v3M389.5 772v3M389.5 778v3M453.5 636v1M453.5 640v3M453.5 646v3M453.5 652v3M453.5 658v3M453.5 664v3M453.5 670v3M453.5 676v3M453.5 682v3M453.5 688v3M453.5 694v3M453.5 700v3M453.5 706v3M453.5 712v3M453.5 718v3M453.5 724v3M453.5 730v3M453.5 736v3M453.5 742v3M453.5 748v3M453.5 754v3M453.5 760v3M453.5 766v3M453.5 772v3M453.5 778v3M517.5 636v1M517.5 640v3M517.5 646v3M517.5 652v3M517.5 658v3M517.5 664v3M517.5 670v3M517.5 676v3M517.5 682v3M517.5 688v3M517.5 694v3M517.5 700v3M517.5 706v3M517.5 712v3M517.5 718v3M517.5 724v3M517.5 730v3M517.5 736v3M517.5 742v3M517.5 748v3M517.5 754v3M517.5 760v3M517.5 766v3M517.5 772v3M517.5 778v3M581.5 636v1M581.5 640v3M581.5 646v3M581.5 652v3M581.5 658v3M581.5 664v3M581.5 670v3M581.5 676v3M581.5 682v3M581.5 688v3M581.5 694v3M581.5 700v3M581.5 706v3M581.5 712v3M581.5 718v3M581.5 724v3M581.5 730v3M581.5 736v3M581.5 742v3M581.5 748v3M581.5 754v3M581.5 760v3M581.5 766v3M581.5 772v3M581.5 778v3M645.5 636v1M645.5 640v3M645.5 646v3M645.5 652v3M645.5 658v3M645.5 664v3M645.5 670v3M645.5 676v3M645.5 682v3M645.5 688v3M645.5 694v3M645.5 700v3M645.5 706v3M645.5 712v3M645.5 718v3M645.5 724v3M645.5 730v3M645.5 736v3M645.5 742v3M645.5 748v3M645.5 754v3M645.5 760v3M645.5 766v3M645.5 772v3M645.5 778v3M709.5 636v1M709.5 640v3M709.5 646v3M709.5 652v3M709.5 658v3M709.5 664v3M709.5 670v3M709.5 676v3M709.5 682v3M709.5 688v3M709.5 694v3M709.5 700v3M709.5 706v3M709.5 712v3M709.5 718v3M709.5 724v3M709.5 730v3M709.5 736v3M709.5 742v3M709.5 748v3M709.5 754v3M709.5 760v3M709.5 766v3M709.5 772v3M709.5 778v3M773.5 636v1M773.5 640v3M773.5 646v3M773.5 652v3M773.5 658v3M773.5 664v3M773.5 670v3M773.5 676v3M773.5 682v3M773.5 688v3M773.5 694v3M773.5 700v3M773.5 706v3M773.5 712v3M773.5 718v3M773.5 724v3M773.5 730v3M773.5 736v3M773.5 742v3M773.5 748v3M773.5 754v3M773.5 760v3M773.5 766v3M773.5 772v3M773.5 778v3M837.5 636v1M837.5 640v3M837.5 646v3M837.5 652v3M837.5 658v3M837.5 664v3M837.5 670v3M837.5 676v3M837.5 682v3M837.5 688v3M837.5 694v3M837.5 700v3M837.5 706v3M837.5 712v3M837.5 718v3M837.5 724v3M837.5 730v3M837.5 736v3M837.5 742v3M837.5 748v3M837.5 754v3M837.5 760v3M837.5 766v3M837.5 772v3M837.5 778v3M901.5 636v1M901.5 640v3M901.5 646v3M901.5 652v3M901.5 658v3M901.5 664v3M901.5 670v3M901.5 676v3M901.5 682v3M901.5 688v3M901.5 694v3M901.5 700v3M901.5 706v3M901.5 712v3M901.5 718v3M901.5 724v3M901.5 730v3M901.5 736v3M901.5 742v3M901.5 748v3M901.5 754v3M901.5 760v3M901.5 766v3M901.5 772v3M901.5 778v3M965.5 636v1M965.5 640v3M965.5 646v3M965.5 652v3M965.5 658v3M965.5 664v3M965.5 670v3M965.5 676v3M965.5 682v3M965.5 688v3M965.5 694v3M965.5 700v3M965.5 706v3M965.5 712v3M965.5 718v3M965.5 724v3M965.5 730v3M965.5 736v3M965.5 742v3M965.5 748v3M965.5 754v3M965.5 760v3M965.5 766v3M965.5 772v3M965.5 778v3M1029.5 636v1M1029.5 640v3M1029.5 646v3M1029.5 652v3M1029.5 658v3M1029.5 664v3M1029.5 670v3M1029.5 676v3M1029.5 682v3M1029.5 688v3M1029.5 694v3M1029.5 700v3M1029.5 706v3M1029.5 712v3M1029.5 718v3M1029.5 724v3M1029.5 730v3M1029.5 736v3M1029.5 742v3M1029.5 748v3M1029.5 754v3M1029.5 760v3M1029.5 766v3M1029.5 772v3M1029.5 778v3M1093.5 636v1M1093.5 640v3M1093.5 646v3M1093.5 652v3M1093.5 658v3M1093.5 664v3M1093.5 670v3M1093.5 676v3M1093.5 682v3M1093.5 688v3M1093.5 694v3M1093.5 700v3M1093.5 706v3M1093.5 712v3M1093.5 718v3M1093.5 724v3M1093.5 730v3M1093.5 736v3M1093.5 742v3M1093.5 748v3M1093.5 754v3M1093.5 760v3M1093.5 766v3M1093.5 772v3M1093.5 778v3M1157.5 636v1M1157.5 640v3M1157.5 646v3M1157.5 652v3M1157.5 658v3M1157.5 664v3M1157.5 670v3M1157.5 676v3M1157.5 682v3M1157.5 688v3M1157.5 694v3M1157.5 700v3M1157.5 706v3M1157.5 712v3M1157.5 718v3M1157.5 724v3M1157.5 730v3M1157.5 736v3M1157.5 742v3M1157.5 748v3M1157.5 754v3M1157.5 760v3M1157.5 766v3M1157.5 772v3M1157.5 778v3M1221.5 636v1M1221.5 640v3M1221.5 646v3M1221.5 652v3M1221.5 658v3M1221.5 664v3M1221.5 670v3M1221.5 676v3M1221.5 682v3M1221.5 688v3M1221.5 694v3M1221.5 700v3M1221.5 706v3M1221.5 712v3M1221.5 718v3M1221.5 724v3M1221.5 730v3M1221.5 736v3M1221.5 742v3M1221.5 748v3M1221.5 754v3M1221.5 760v3M1221.5 766v3M1221.5 772v3M1221.5 778v3M1285.5 636v1M1285.5 640v3M1285.5 646v3M1285.5 652v3M1285.5 658v3M1285.5 664v3M1285.5 670v3M1285.5 676v3M1285.5 682v3M1285.5 688v3M1285.5 694v3M1285.5 700v3M1285.5 706v3M1285.5 712v3M1285.5 718v3M1285.5 724v3M1285.5 730v3M1285.5 736v3M1285.5 742v3M1285.5 748v3M1285.5 754v3M1285.5 760v3M1285.5 766v3M1285.5 772v3M1285.5 778v3M1349.5 636v1M1349.5 640v3M1349.5 646v3M1349.5 652v3M1349.5 658v3M1349.5 664v3M1349.5 670v3M1349.5 676v3M1349.5 682v3M1349.5 688v3M1349.5 694v3M1349.5 700v3M1349.5 706v3M1349.5 712v3M1349.5 718v3M1349.5 724v3M1349.5 730v3M1349.5 736v3M1349.5 742v3M1349.5 748v3M1349.5 754v3M1349.5 760v3M1349.5 766v3M1349.5 772v3M1349.5 778v3M1413.5 636v1M1413.5 640v3M1413.5 646v3M1413.5 652v3M1413.5 658v3M1413.5 664v3M1413.5 670v3M1413.5 676v3M1413.5 682v3M1413.5 688v3M1413.5 694v3M1413.5 700v3M1413.5 706v3M1413.5 712v3M1413.5 718v3M1413.5 724v3M1413.5 730v3M1413.5 736v3M1413.5 742v3M1413.5 748v3M1413.5 754v3M1413.5 760v3M1413.5 766v3M1413.5 772v3M1413.5 778v3" stroke="#778899" stroke-width="1" fill="none"/><path d="M5 644h3v70h-3zM11 654h5v60h-5zM19 663h5v51h-5zM27 668h5v46h-5zM35 674h5v40h-5zM43 684h5v30h-5zM51 690h5v24h-5zM59 700h5v14h-5zM67 705h5v9h-5zM75 711h5v3h-5zM83 714h5v4h-5zM91 714h5v6h-5zM99 714h5v6h-5zM107 714h5v10h-5zM115 714h5v17h-5zM123 714h5v22h-5zM131 714h5v20h-5zM139 714h5v19h-5zM147 714h5v19h-5zM155 714h5v13h-5zM163 714h5v13h-5zM171 714h5v9h-5zM179 714h5v8h-5zM187 714h5v2h-5zM195 709h5v5h-5zM203 704h5v10h-5zM211 699h5v15h-5zM219 697h5v17h-5zM227 691h5v23h-5zM235 687h5v27h-5zM243 682h5v32h-5zM251 703h5v11h-5zM259 714h5v9h-5zM267 714h5v21h-5zM275 714h5v25h-5zM283 714h5v32h-5zM291 714h5v32h-5zM299 714h5v28h-5zM307 714h5v26h-5zM315 714h5v25h-5zM323 714h5v25h-5zM331 714h5v26h-5zM339 714h5v24h-5zM347 714h5v13h-5zM355 714h5v9h-5zM363 714h5v6h-5zM371 714h5v5h-5zM379 714h5v9h-5zM387 714h5v13h-5zM395 714h5v23h-5zM403 714h5v31h-5zM411 714h5v31h-5zM419 714h5v33h-5zM427 714h5v34h-5zM435 714h5v33h-5zM443 714h5v44h-5zM451 714h5v51h-5zM459 714h5v56h-5zM467 714h5v58h-5zM475 714h5v60h-5zM483 714h5v62h-5zM491 714h5v64h-5zM499 714h5v64h-5zM507 714h5v62h-5zM515 714h5v59h-5zM523 714h5v59h-5zM531 714h5v58h-5zM539 714h5v51h-5zM547 714h5v45h-5zM555 714h5v38h-5zM563 714h5v35h-5zM571 714h5v34h-5zM579 714h5v33h-5zM587 714h5v35h-5zM595 714h5v33h-5zM603 714h5v31h-5zM611 714h5v32h-5zM619 714h5v33h-5zM627 714h5v37h-5zM635 714h5v41h-5zM643 714h5v44h-5zM651 714h5v46h-5zM659 714h5v43h-5zM667 714h5v38h-5zM675 714h5v41h-5zM683 714h5v48h-5zM691 714h5v54h-5zM699 714h5v57h-5zM707 714h5v57h-5zM715 714h5v56h-5zM723 714h5v52h-5zM731 714h5v50h-5zM739 714h5v54h-5zM747 714h5v55h-5zM755 714h5v53h-5zM763 714h5v52h-5zM771 714h5v48h-5zM779 714h5v48h-5zM787 714h5v48h-5zM795 714h5v48h-5zM803 714h5v47h-5zM811 714h5v45h-5zM819 714h5v43h-5zM827 714h5v44h-5zM835 714h5v45h-5zM843 714h5v46h-5zM851 714h5v48h-5zM859 714h5v49h-5zM867 714h5v51h-5zM875 714h5v49h-5zM883 714h5v50h-5zM891 714h5v52h-5zM899 714h5v48h-5zM907 714h5v48h-5zM915 714h5v48h-5zM923 714h5v48h-5zM931 714h5v53h-5zM939 714h5v57h-5zM947 714h5v59h-5zM955 714h5v58h-5zM963 714h5v54h-5zM971 714h5v58h-5zM979 714h5v60h-5zM987 714h5v60h-5zM995 714h5v57h-5zM1003 714h5v55h-5zM1011 714h5v52h-5zM1019 714h5v51h-5zM1027 714h5v52h-5zM1035 714h5v50h-5zM1043 714h5v48h-5zM1051 714h5v47h-5zM1059 714h5v43h-5zM1067 714h5v42h-5zM1075 714h5v37h-5zM1083 714h5v33h-5zM1091 714h5v28h-5zM1099 714h5v20h-5zM1107 714h5v12h-5zM1115 714h5v10h-5zM1123 714h5v8h-5zM1131 714h5v6h-5zM1139 714h5v1h-5z" fill="#00ff00"/><g shape-rendering="auto"><path d="M4,642.5C5.33,642.75 9.33,643.33 12,644C14.67,644.67 17.08,645.42 20,646.5C22.92,647.58 24.17,648.00 29.5,650.5C34.83,653.00 45.42,657.20 52,661.5C58.58,665.80 63.57,671.72 69,676.3C74.43,680.88 79.10,684.58 84.6,689C90.10,693.42 96.43,698.53 102,702.8C107.57,707.07 112.67,711.32 118,714.6C123.33,717.88 128.40,720.30 134,722.5C139.60,724.70 146.05,726.65 151.6,727.8C157.15,728.95 162.07,729.20 167.3,729.4C172.53,729.60 178.07,729.82 183,729C187.93,728.18 191.32,726.73 196.9,724.5C202.48,722.27 209.95,718.88 216.5,715.6C223.05,712.32 229.95,707.68 236.2,704.8C242.45,701.92 249.08,699.12 254,698.3C258.92,697.48 261.12,698.32 265.7,699.9C270.28,701.48 277.45,705.40 281.5,707.8C285.55,710.20 285.63,711.03 290,714.3C294.37,717.57 301.80,723.40 307.7,727.4C313.60,731.40 320.15,736.10 325.4,738.3C330.65,740.50 334.60,740.67 339.2,740.6C343.80,740.53 347.42,739.43 353,737.9C358.58,736.37 366.80,732.98 372.7,731.4C378.60,729.82 383.82,729.07 388.4,728.4C392.98,727.73 395.60,727.07 400.2,727.4C404.80,727.73 410.08,728.75 416,730.4C421.92,732.05 428.82,734.35 435.7,737.3C442.58,740.25 448.77,744.00 457.3,748.1C465.83,752.20 478.70,758.13 486.9,761.9C495.10,765.67 499.95,768.57 506.5,770.7C513.05,772.83 520.95,774.13 526.2,774.7C531.45,775.27 533.08,775.08 538,774.1C542.92,773.12 549.47,771.00 555.7,768.8C561.93,766.60 569.68,763.03 575.4,760.9C581.12,758.77 585.95,757.48 590,756C594.05,754.52 594.80,753.42 599.7,752C604.60,750.58 614.15,748.25 619.4,747.5C624.65,746.75 626.93,747.17 631.2,747.5C635.47,747.83 638.77,748.68 645,749.5C651.23,750.32 661.38,751.15 668.6,752.4C675.82,753.65 681.73,755.58 688.3,757C694.87,758.42 701.45,759.75 708,760.9C714.55,762.05 720.07,762.65 727.6,763.9C735.13,765.15 746.63,767.65 753.2,768.4C759.77,769.15 761.42,769.00 767,768.4C772.58,767.80 780.13,765.48 786.7,764.8C793.27,764.12 798.20,765.22 806.4,764.3C814.60,763.38 826.38,760.13 835.9,759.3C845.42,758.47 856.15,759.13 863.5,759.3C870.85,759.47 875.63,760.03 880,760.3C884.37,760.57 886.45,760.57 889.7,760.9C892.95,761.23 892.95,762.03 899.5,762.3C906.05,762.57 920.80,762.02 929,762.5C937.20,762.98 941.15,764.55 948.7,765.2C956.25,765.85 967.73,765.70 974.3,766.4C980.87,767.10 982.85,768.62 988.1,769.4C993.35,770.18 999.23,771.10 1005.8,771.1C1012.37,771.10 1020.60,770.05 1027.5,769.4C1034.40,768.75 1040.63,768.28 1047.2,767.2C1053.77,766.12 1060.35,764.60 1066.9,762.9C1073.45,761.20 1080.93,758.65 1086.5,757C1092.07,755.35 1095.38,755.20 1100.3,753C1105.22,750.80 1109.10,747.57 1116,743.8C1122.90,740.03 1137.42,732.63 1141.7,730.4" fill="none" stroke="#ff0000" stroke-width="3.2" stroke-linejoin="round" stroke-linecap="round"/></g></svg><polygon points="8,12 19,12 13.5,18" fill="#000"/><polygon points="1153.5,5 1169.5,5 1161.5,13" fill="#778899" shape-rendering="auto"/></svg>
<div class="t" style="left:1459px;top:6px;color:#000;">1987.35</div><div class="t" style="left:1459px;top:71px;color:#000;">1976.40</div><div class="t" style="left:1459px;top:136px;color:#000;">1965.30</div><div class="t" style="left:1459px;top:201px;color:#000;">1954.35</div><div class="t" style="left:1459px;top:266px;color:#000;">1943.25</div><div class="t" style="left:1459px;top:331px;color:#000;">1932.15</div><div class="t" style="left:1459px;top:396px;color:#000;">1921.20</div><div class="t" style="left:1459px;top:526px;color:#000;">1899.15</div><div class="t" style="left:1459px;top:591px;color:#000;">1888.05</div><div class="t" style="left:1456px;top:638px;color:#000;">8.479</div><div class="t" style="left:1456px;top:707px;color:#000;">0.00</div><div class="t" style="left:1456px;top:767px;color:#000;">-7.555</div><div class="t" style="left:4px;top:789px;color:#000;">20 Jul 2023</div><div class="t" style="left:132px;top:789px;color:#000;">25 Jul 00:00</div><div class="t" style="left:260px;top:789px;color:#000;">27 Jul 16:00</div><div class="t" style="left:388px;top:789px;color:#000;">1 Aug 08:00</div><div class="t" style="left:516px;top:789px;color:#000;">4 Aug 00:00</div><div class="t" style="left:644px;top:789px;color:#000;">8 Aug 16:00</div><div class="t" style="left:772px;top:789px;color:#000;">11 Aug 08:00</div><div class="t" style="left:900px;top:789px;color:#000;">16 Aug 00:00</div><div class="t" style="left:1028px;top:789px;color:#000;">18 Aug 16:00</div><div class="t" style="left:26px;top:8px;color:#000;letter-spacing:-0.6px">XAUUSD-,H4</div><div class="t" style="left:112px;top:8px;color:#000;letter-spacing:0.2px">1898.41 1902.88 1898.33 1902.35</div><div class="t" style="left:9px;top:640px;color:#000;">MACD(12,26,9) 0.016 -1.735</div><div class="t" style="left:1454px;top:33px;width:62px;height:17px;background:#000;color:#fff"><span style="position:absolute;left:5px;top:1px">1983.00</span></div><div class="t" style="left:1454px;top:463px;width:62px;height:17px;background:#000;color:#fff"><span style="position:absolute;left:5px;top:1px">1910.01</span></div><div class="t" style="left:1454px;top:506px;width:62px;height:17px;background:#000;color:#fff"><span style="position:absolute;left:5px;top:1px">1902.35</span></div><div class="t" style="left:1454px;top:581px;width:62px;height:17px;background:#0000cd;color:#fff"><span style="position:absolute;left:5px;top:1px">1890.00</span></div><div class="t" style="left:1454px;top:610px;width:62px;height:17px;background:#0000cd;color:#fff"><span style="position:absolute;left:5px;top:1px">1885.00</span></div>
</body></html>
